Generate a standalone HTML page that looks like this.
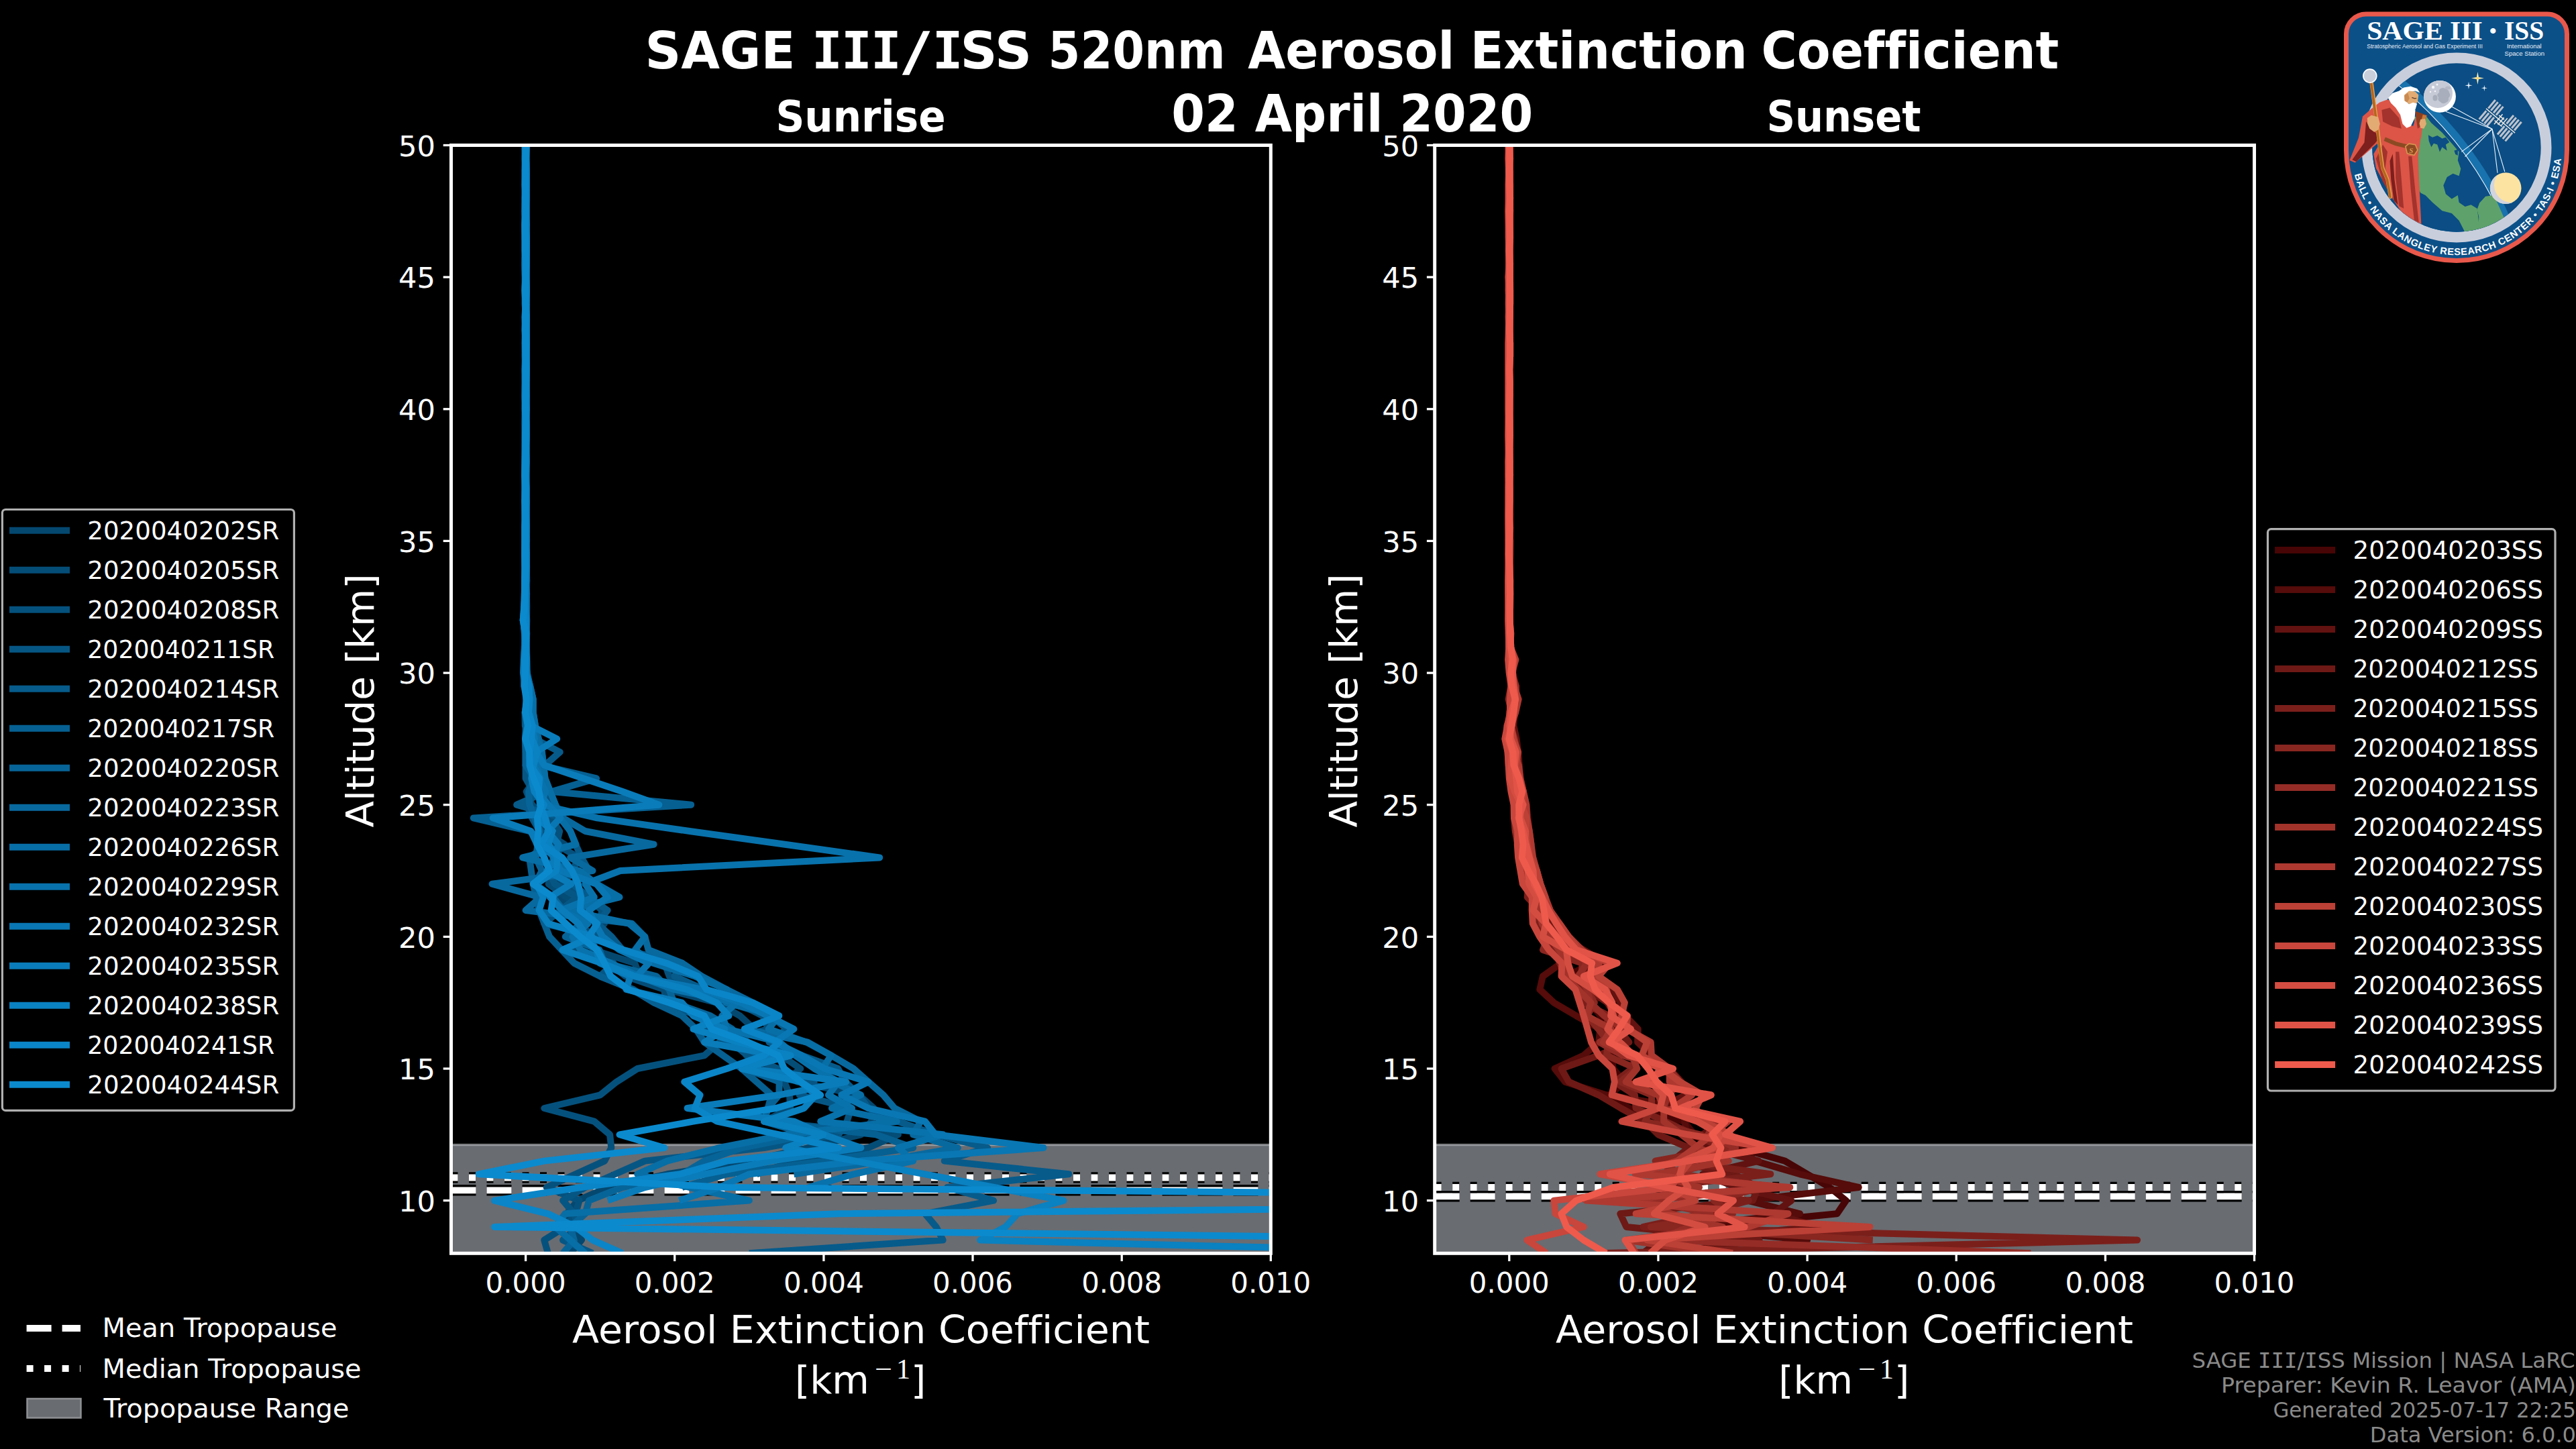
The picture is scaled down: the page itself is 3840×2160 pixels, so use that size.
<!DOCTYPE html>
<html lang="en"><head><meta charset="utf-8"><title>SAGE III/ISS 520nm Aerosol Extinction Coefficient</title>
<style>html,body{margin:0;padding:0;background:#000;width:3840px;height:2160px;overflow:hidden}svg{display:block}text{font-family:'DejaVu Sans', 'Liberation Sans', sans-serif;fill:#fff;font-variant-ligatures:none}</style></head><body>
<svg width="3840" height="2160" viewBox="0 0 3840 2160">
<rect width="3840" height="2160" fill="#000"/>
<defs><clipPath id="cl"><rect x="672.5" y="216.5" width="1221.8" height="1651.8"/></clipPath><clipPath id="cr"><rect x="2138.7" y="216.5" width="1221.8" height="1651.8"/></clipPath></defs>
<g clip-path="url(#cl)">
<rect x="672.5" y="1706.5" width="1221.8" height="161.8" fill="#696c71"/>
<rect x="672.5" y="1704.9" width="1221.8" height="1.7" fill="#7e8083"/>
<rect x="672.5" y="1706.6" width="1221.8" height="1.6" fill="#a0a4a7"/>
<line x1="672.5" x2="1894.3" y1="1774.3" y2="1774.3" stroke="#000" stroke-width="16.4" stroke-dasharray="37 16"/>
<line x1="672.5" x2="1894.3" y1="1774.3" y2="1774.3" stroke="#fff" stroke-width="9.8" stroke-dasharray="37 16"/>
<line x1="672.5" x2="1894.3" y1="1755.4" y2="1755.4" stroke="#000" stroke-width="16.4" stroke-dasharray="10 16.5"/>
<line x1="672.5" x2="1894.3" y1="1755.4" y2="1755.4" stroke="#fff" stroke-width="10" stroke-dasharray="10 16.5"/>
<g fill="none" stroke-width="10" stroke-linejoin="round" stroke-linecap="butt">
<polyline points="850.2,1868.3 866.9,1848.6 850.2,1829.0 844.7,1809.3 861.3,1789.6 905.8,1770.0 994.6,1750.3 1116.8,1730.6 1205.6,1711.0 1283.4,1691.3 1298.9,1671.7 1302.6,1652.0 1280.2,1632.3 1188.7,1612.7 1152.3,1593.0 1112.5,1573.3 1103.2,1553.7 1124.3,1534.0 1103.2,1514.3 1068.4,1494.7 994.5,1475.0 953.7,1455.3 946.2,1435.7 884.2,1416.0 887.0,1396.4 901.0,1376.7 870.2,1357.0 827.9,1337.4 835.0,1317.7 831.3,1298.0 825.3,1278.4 841.6,1258.7 810.5,1239.0 800.8,1219.4 823.1,1199.7 793.0,1180.0 799.9,1160.4 796.6,1140.7 798.7,1121.1 790.8,1101.4 792.3,1081.7 785.0,1062.1 791.3,1042.4 784.8,1022.7 781.5,1003.1 784.8,983.4 783.4,963.7 783.1,944.1 780.9,924.4 782.9,904.7 784.2,885.1 785.1,865.4 784.3,845.8 784.7,826.1 784.2,806.4 785.0,786.8 784.9,767.1 784.9,747.4 784.9,727.8 783.8,708.1 784.6,688.4 783.9,668.8 784.4,649.1 784.8,629.5 784.0,609.8 783.4,590.1 783.8,570.5 783.7,550.8 782.6,531.1 782.5,511.5 783.6,491.8 783.8,472.1 783.3,452.5 784.5,432.8 784.2,413.1 783.3,393.5 784.7,373.8 784.2,354.1 784.2,334.5 784.0,314.8 784.2,295.2 784.8,275.5 783.6,255.8 784.0,236.2 783.6,216.5" stroke="#044870"/>
<polyline points="1127.9,1750.3 1183.4,1730.6 1294.5,1711.0 1338.9,1691.3 1139.0,1671.7 1178.2,1652.0 1177.0,1632.3 1169.3,1612.7 1193.2,1593.0 1164.5,1573.3 1106.7,1553.7 1059.6,1534.0 1050.6,1514.3 992.0,1494.7 990.4,1475.0 932.3,1455.3 907.7,1435.7 854.9,1416.0 885.1,1396.4 863.3,1376.7 865.9,1357.0 844.3,1337.4 817.6,1317.7 830.4,1298.0 834.0,1278.4 821.5,1258.7 805.9,1239.0 812.2,1219.4 793.2,1199.7 784.7,1180.0 798.9,1160.4 783.6,1140.7 788.5,1121.1 786.2,1101.4 785.3,1081.7 782.5,1062.1 786.7,1042.4 781.1,1022.7 780.2,1003.1 781.3,983.4 781.9,963.7 782.8,944.1 782.2,924.4 782.7,904.7 783.8,885.1 783.2,865.4 783.5,845.8 783.2,826.1 783.8,806.4 783.3,786.8 784.0,767.1 784.7,747.4 783.5,727.8 783.8,708.1 783.5,688.4 784.5,668.8 783.7,649.1 783.3,629.5 784.7,609.8 784.6,590.1 783.0,570.5 783.3,550.8 784.3,531.1 784.8,511.5 783.6,491.8 784.1,472.1 783.9,452.5 782.8,432.8 783.3,413.1 783.8,393.5 783.3,373.8 783.5,354.1 783.4,334.5 782.6,314.8 784.3,295.2 784.5,275.5 783.1,255.8 784.1,236.2 783.1,216.5" stroke="#044d77"/>
<polyline points="816.9,1868.3 811.3,1848.6 842.4,1829.0 858.0,1809.3 863.5,1789.6 814.7,1770.0 858.0,1750.3 901.3,1730.6 911.3,1711.0 909.1,1691.3 885.8,1671.7 811.3,1652.0 894.6,1632.3 919.1,1612.7 950.2,1593.0 1050.1,1573.3 1072.4,1553.7 1145.3,1534.0 1137.0,1514.3 1098.7,1494.7 1049.8,1475.0 997.7,1455.3 990.6,1435.7 926.6,1416.0 890.6,1396.4 893.6,1376.7 897.5,1357.0 874.5,1337.4 839.4,1317.7 853.8,1298.0 862.5,1278.4 829.3,1258.7 834.2,1239.0 821.1,1219.4 825.0,1199.7 813.7,1180.0 807.4,1160.4 810.2,1140.7 804.5,1121.1 799.9,1101.4 789.9,1081.7 787.6,1062.1 792.1,1042.4 784.7,1022.7 784.5,1003.1 783.2,983.4 781.9,963.7 783.0,944.1 785.0,924.4 785.2,904.7 784.9,885.1 785.2,865.4 784.8,845.8 783.9,826.1 785.0,806.4 784.3,786.8 783.9,767.1 784.2,747.4 784.0,727.8 784.4,708.1 784.5,688.4 784.1,668.8 784.7,649.1 784.4,629.5 784.0,609.8 783.9,590.1 784.6,570.5 784.1,550.8 783.1,531.1 783.2,511.5 784.5,491.8 783.4,472.1 784.4,452.5 784.2,432.8 783.6,413.1 784.1,393.5 784.4,373.8 784.4,354.1 784.3,334.5 784.7,314.8 784.1,295.2 784.5,275.5 783.5,255.8 783.9,236.2 784.2,216.5" stroke="#05517d"/>
<polyline points="883.5,1868.3 839.1,1848.6 861.3,1829.0 855.8,1809.3 839.1,1789.6 872.4,1770.0 916.9,1750.3 961.3,1730.6 1139.0,1711.0 1250.1,1691.3 1262.6,1671.7 1268.7,1652.0 1191.6,1632.3 1213.6,1612.7 1159.5,1593.0 1114.2,1573.3 1090.0,1553.7 1051.4,1534.0 1045.1,1514.3 975.2,1494.7 944.2,1475.0 894.6,1455.3 914.7,1435.7 837.4,1416.0 892.3,1396.4 811.3,1376.7 835.5,1357.0 860.5,1337.4 826.8,1317.7 818.1,1298.0 825.4,1278.4 809.4,1258.7 804.5,1239.0 793.2,1219.4 785.8,1199.7 794.7,1180.0 783.6,1160.4 783.6,1140.7 783.6,1121.1 789.5,1101.4 782.8,1081.7 782.5,1062.1 786.3,1042.4 781.9,1022.7 781.9,1003.1 782.8,983.4 783.1,963.7 783.8,944.1 780.9,924.4 780.8,904.7 783.4,885.1 784.0,865.4 782.7,845.8 783.1,826.1 783.1,806.4 783.7,786.8 784.5,767.1 782.5,747.4 782.2,727.8 782.5,708.1 782.2,688.4 782.2,668.8 782.4,649.1 782.6,629.5 782.9,609.8 782.3,590.1 782.5,570.5 782.7,550.8 783.4,531.1 783.2,511.5 783.1,491.8 783.7,472.1 782.6,452.5 783.6,432.8 783.5,413.1 783.1,393.5 784.4,373.8 782.5,354.1 782.2,334.5 782.4,314.8 782.6,295.2 783.5,275.5 782.6,255.8 782.4,236.2 783.7,216.5" stroke="#065684"/>
<polyline points="1116.8,1868.3 1405.6,1848.6 1395.6,1829.0 1378.9,1809.3 1481.1,1789.6 1412.2,1770.0 1593.3,1750.3 1407.8,1730.6 1472.2,1711.0 1394.5,1691.3 1338.9,1671.7 1294.6,1652.0 1280.2,1632.3 1260.1,1612.7 1249.2,1593.0 1194.8,1573.3 1146.6,1553.7 1172.9,1534.0 1149.2,1514.3 1085.3,1494.7 1049.2,1475.0 1005.4,1455.3 1016.8,1435.7 928.1,1416.0 911.8,1396.4 890.3,1376.7 905.7,1357.0 877.2,1337.4 853.3,1317.7 878.0,1298.0 866.9,1278.4 858.0,1258.7 850.2,1239.0 839.1,1219.4 770.2,1199.7 815.1,1180.0 803.6,1160.4 812.5,1140.7 834.7,1121.1 796.9,1101.4 791.0,1081.7 789.2,1062.1 789.1,1042.4 789.5,1022.7 782.6,1003.1 784.1,983.4 784.4,963.7 783.6,944.1 783.6,924.4 784.4,904.7 783.8,885.1 783.9,865.4 784.3,845.8 784.5,826.1 784.1,806.4 784.2,786.8 784.9,767.1 784.2,747.4 784.9,727.8 784.5,708.1 784.9,688.4 783.8,668.8 784.9,649.1 784.5,629.5 784.5,609.8 784.5,590.1 784.7,570.5 784.9,550.8 784.9,531.1 784.8,511.5 783.9,491.8 783.5,472.1 784.6,452.5 783.9,432.8 784.5,413.1 784.3,393.5 784.5,373.8 784.4,354.1 784.9,334.5 784.7,314.8 784.0,295.2 784.9,275.5 784.5,255.8 784.8,236.2 784.4,216.5" stroke="#065b8b"/>
<polyline points="1016.8,1770.0 1083.5,1750.3 1227.9,1730.6 1361.2,1711.0 1305.6,1691.3 1139.0,1671.7 1144.6,1652.0 1150.1,1632.3 1127.9,1612.7 1105.7,1593.0 1077.9,1573.3 1050.1,1553.7 1037.5,1534.0 1016.8,1514.3 975.2,1494.7 942.3,1475.0 894.6,1455.3 855.8,1435.7 837.4,1416.0 819.1,1396.4 811.3,1376.7 803.6,1357.0 799.1,1337.4 794.7,1317.7 791.9,1298.0 789.1,1278.4 816.9,1258.7 789.1,1239.0 705.8,1219.4 1030.2,1199.7 822.4,1180.0 889.1,1160.4 805.8,1140.7 783.7,1121.1 783.0,1101.4 783.9,1081.7 787.5,1062.1 784.4,1042.4 784.2,1022.7 782.2,1003.1 781.4,983.4 781.9,963.7 782.6,944.1 779.7,924.4 782.2,904.7 781.9,885.1 782.9,865.4 782.8,845.8 782.1,826.1 782.1,806.4 782.5,786.8 783.7,767.1 783.8,747.4 783.9,727.8 782.2,708.1 782.3,688.4 782.9,668.8 782.8,649.1 782.4,629.5 782.8,609.8 782.2,590.1 782.6,570.5 782.3,550.8 782.8,531.1 783.8,511.5 782.5,491.8 783.6,472.1 782.8,452.5 782.2,432.8 782.7,413.1 782.2,393.5 782.5,373.8 782.8,354.1 782.5,334.5 782.4,314.8 782.2,295.2 783.0,275.5 782.8,255.8 782.9,236.2 782.3,216.5" stroke="#066092"/>
<polyline points="839.1,1868.3 855.8,1848.6 850.2,1829.0 872.4,1809.3 878.0,1789.6 928.0,1770.0 1016.8,1750.3 1050.1,1730.6 1105.7,1711.0 1205.6,1691.3 1139.0,1671.7 1144.6,1652.0 1161.4,1632.3 1161.6,1612.7 1110.8,1593.0 1133.4,1573.3 1095.3,1553.7 1091.6,1534.0 1059.0,1514.3 1004.9,1494.7 997.5,1475.0 978.4,1455.3 901.4,1435.7 893.4,1416.0 842.8,1396.4 865.8,1376.7 840.1,1357.0 824.5,1337.4 797.6,1317.7 807.7,1298.0 798.6,1278.4 801.8,1258.7 805.0,1239.0 797.0,1219.4 789.5,1199.7 788.1,1180.0 796.1,1160.4 783.6,1140.7 783.6,1121.1 783.0,1101.4 785.9,1081.7 783.6,1062.1 789.9,1042.4 784.2,1022.7 781.3,1003.1 782.4,983.4 782.4,963.7 782.8,944.1 779.7,924.4 781.2,904.7 783.6,885.1 782.7,865.4 782.8,845.8 782.8,826.1 782.5,806.4 782.3,786.8 782.5,767.1 782.5,747.4 782.4,727.8 783.3,708.1 782.5,688.4 782.8,668.8 782.8,649.1 783.2,629.5 782.6,609.8 783.3,590.1 783.6,570.5 783.8,550.8 782.8,531.1 782.6,511.5 782.9,491.8 782.3,472.1 783.7,452.5 783.4,432.8 782.8,413.1 782.2,393.5 782.9,373.8 782.9,354.1 782.5,334.5 782.9,314.8 783.6,295.2 782.9,275.5 782.7,255.8 783.0,236.2 783.2,216.5" stroke="#076498"/>
<polyline points="1183.4,1750.3 1316.7,1730.6 1427.8,1711.0 1361.2,1691.3 1372.3,1671.7 1333.5,1652.0 1316.7,1632.3 1294.5,1612.7 1272.3,1593.0 1239.0,1573.3 1204.0,1553.7 1110.0,1534.0 1161.2,1514.3 1122.3,1494.7 1082.8,1475.0 1046.3,1455.3 1016.8,1435.7 966.6,1416.0 961.3,1396.4 941.9,1376.7 783.6,1357.0 805.8,1337.4 733.6,1317.7 883.5,1298.0 850.2,1278.4 974.6,1258.7 872.4,1239.0 839.1,1219.4 828.0,1199.7 820.2,1180.0 812.5,1160.4 810.2,1140.7 808.0,1121.1 803.0,1101.4 798.0,1081.7 794.7,1062.1 794.7,1042.4 790.2,1022.7 785.8,1003.1 785.3,983.4 784.9,963.7 784.8,944.1 785.2,924.4 784.3,904.7 784.2,885.1 784.0,865.4 785.1,845.8 784.3,826.1 785.0,806.4 785.0,786.8 784.8,767.1 784.4,747.4 784.2,727.8 784.3,708.1 784.5,688.4 784.1,668.8 784.1,649.1 783.7,629.5 784.4,609.8 784.7,590.1 784.5,570.5 784.9,550.8 784.9,531.1 784.9,511.5 784.9,491.8 784.9,472.1 784.9,452.5 784.9,432.8 784.9,413.1 784.7,393.5 784.9,373.8 784.9,354.1 784.9,334.5 784.3,314.8 784.9,295.2 784.3,275.5 784.4,255.8 784.2,236.2 784.9,216.5" stroke="#08699f"/>
<polyline points="872.4,1868.3 850.2,1848.6 828.0,1829.0 842.4,1809.3 1116.8,1789.6 1027.9,1770.0 950.2,1750.3 994.6,1730.6 1072.4,1711.0 1172.3,1691.3 1336.8,1671.7 1239.9,1652.0 1283.2,1632.3 1241.9,1612.7 1225.9,1593.0 1239.0,1573.3 1202.5,1553.7 1145.7,1534.0 1161.2,1514.3 1082.6,1494.7 1083.5,1475.0 1035.8,1455.3 974.0,1435.7 946.7,1416.0 961.3,1396.4 937.6,1376.7 844.7,1357.0 923.5,1337.4 889.1,1317.7 863.4,1298.0 779.1,1278.4 858.5,1258.7 850.2,1239.0 835.2,1219.4 828.0,1199.7 820.2,1180.0 812.5,1160.4 810.2,1140.7 807.5,1121.1 800.4,1101.4 797.9,1081.7 794.7,1062.1 794.7,1042.4 790.2,1022.7 784.4,1003.1 784.8,983.4 784.2,963.7 785.2,944.1 783.3,924.4 784.5,904.7 785.1,885.1 783.3,865.4 784.7,845.8 784.5,826.1 784.4,806.4 785.0,786.8 783.9,767.1 784.3,747.4 783.6,727.8 783.5,708.1 783.4,688.4 784.1,668.8 783.4,649.1 783.6,629.5 783.9,609.8 784.3,590.1 784.5,570.5 784.1,550.8 784.6,531.1 784.9,511.5 784.6,491.8 784.4,472.1 784.5,452.5 784.9,432.8 783.8,413.1 784.3,393.5 784.5,373.8 783.9,354.1 784.4,334.5 784.6,314.8 784.4,295.2 783.8,275.5 784.9,255.8 784.0,236.2 783.8,216.5" stroke="#086ea6"/>
<polyline points="1205.6,1770.0 1272.3,1750.3 1361.2,1730.6 1338.9,1711.0 1405.6,1691.3 1223.2,1671.7 1270.0,1652.0 1234.9,1632.3 1250.0,1612.7 1214.0,1593.0 1185.6,1573.3 1162.1,1553.7 1083.8,1534.0 1076.5,1514.3 1097.9,1494.7 1004.8,1475.0 951.8,1455.3 910.3,1435.7 865.4,1416.0 853.6,1396.4 876.4,1376.7 836.6,1357.0 885.7,1337.4 872.4,1317.7 924.6,1298.0 1311.2,1278.4 1170.1,1258.7 1027.9,1239.0 890.2,1219.4 805.8,1199.7 813.3,1180.0 803.9,1160.4 800.6,1140.7 791.4,1121.1 794.1,1101.4 792.4,1081.7 790.6,1062.1 790.0,1042.4 786.5,1022.7 785.7,1003.1 782.6,983.4 784.0,963.7 784.5,944.1 783.2,924.4 783.1,904.7 782.6,885.1 783.9,865.4 783.4,845.8 783.7,826.1 783.3,806.4 782.5,786.8 783.7,767.1 782.9,747.4 783.0,727.8 783.1,708.1 783.8,688.4 783.8,668.8 783.4,649.1 783.1,629.5 784.1,609.8 783.6,590.1 783.8,570.5 784.8,550.8 783.6,531.1 784.2,511.5 783.8,491.8 783.4,472.1 783.0,452.5 784.0,432.8 784.0,413.1 784.2,393.5 784.1,373.8 784.0,354.1 783.0,334.5 782.9,314.8 783.9,295.2 783.9,275.5 783.6,255.8 782.7,236.2 782.7,216.5" stroke="#0872ac"/>
<polyline points="1012.4,1789.6 1072.4,1770.0 1116.8,1750.3 1283.4,1730.6 1555.5,1711.0 1394.5,1691.3 1378.9,1671.7 1294.4,1652.0 1254.4,1632.3 1294.5,1612.7 1229.3,1593.0 1195.0,1573.3 1154.9,1553.7 1183.4,1534.0 1144.5,1514.3 1105.0,1494.7 1047.4,1475.0 949.1,1455.3 967.5,1435.7 923.5,1416.0 898.4,1396.4 887.0,1376.7 878.0,1357.0 905.8,1337.4 889.1,1317.7 835.9,1298.0 824.8,1278.4 832.6,1258.7 816.2,1239.0 835.3,1219.4 817.4,1199.7 801.0,1180.0 805.6,1160.4 795.0,1140.7 793.8,1121.1 796.9,1101.4 793.1,1081.7 787.8,1062.1 790.5,1042.4 785.1,1022.7 782.6,1003.1 784.6,983.4 784.0,963.7 784.4,944.1 783.0,924.4 783.2,904.7 783.4,885.1 784.3,865.4 784.6,845.8 784.7,826.1 783.8,806.4 784.0,786.8 784.1,767.1 783.8,747.4 784.5,727.8 783.4,708.1 783.9,688.4 784.2,668.8 783.5,649.1 783.8,629.5 783.9,609.8 784.9,590.1 784.3,570.5 784.1,550.8 784.9,531.1 784.9,511.5 784.9,491.8 784.2,472.1 784.6,452.5 784.9,432.8 784.5,413.1 784.9,393.5 784.8,373.8 784.2,354.1 784.8,334.5 783.7,314.8 784.8,295.2 784.9,275.5 784.9,255.8 784.1,236.2 784.9,216.5" stroke="#0977b3"/>
<polyline points="905.8,1789.6 961.3,1770.0 1050.1,1750.3 1150.1,1730.6 1283.4,1711.0 1227.9,1691.3 1183.4,1671.7 1024.6,1652.0 1161.2,1632.3 1261.2,1612.7 1117.1,1593.0 1160.1,1573.3 1050.1,1553.7 1080.5,1534.0 1033.8,1514.3 1016.3,1494.7 933.5,1475.0 939.7,1455.3 894.0,1435.7 889.3,1416.0 875.2,1396.4 862.2,1376.7 838.5,1357.0 819.6,1337.4 851.4,1317.7 815.1,1298.0 830.5,1278.4 800.6,1258.7 791.3,1239.0 734.7,1219.4 982.4,1199.7 928.0,1180.0 870.2,1160.4 811.3,1140.7 799.1,1121.1 830.2,1101.4 791.3,1081.7 783.5,1062.1 787.3,1042.4 783.7,1022.7 780.2,1003.1 780.8,983.4 782.3,963.7 782.6,944.1 780.7,924.4 781.3,904.7 781.9,885.1 782.3,865.4 782.7,845.8 782.1,826.1 782.7,806.4 782.2,786.8 783.5,767.1 782.7,747.4 782.7,727.8 782.3,708.1 783.0,688.4 783.5,668.8 783.8,649.1 783.4,629.5 783.9,609.8 783.5,590.1 783.1,570.5 782.9,550.8 783.5,531.1 782.9,511.5 782.8,491.8 783.2,472.1 783.6,452.5 783.9,432.8 783.1,413.1 783.4,393.5 784.3,373.8 783.4,354.1 783.7,334.5 782.5,314.8 783.1,295.2 782.2,275.5 782.7,255.8 783.3,236.2 783.5,216.5" stroke="#0a7cba"/>
<polyline points="2238.6,1868.3 1461.1,1848.6 1498.9,1829.0 1516.7,1809.3 1585.5,1789.6 1482.2,1770.0 1378.9,1750.3 1274.5,1730.6 1171.2,1711.0 1227.9,1691.3 1139.0,1671.7 1198.5,1652.0 1216.1,1632.3 1193.3,1612.7 1105.7,1593.0 1178.8,1573.3 1101.0,1553.7 1033.5,1534.0 1086.4,1514.3 1068.3,1494.7 1023.9,1475.0 946.8,1455.3 897.1,1435.7 838.5,1416.0 882.8,1396.4 817.2,1376.7 803.6,1357.0 809.8,1337.4 799.5,1317.7 829.3,1298.0 831.2,1278.4 817.4,1258.7 823.9,1239.0 801.2,1219.4 811.0,1199.7 796.6,1180.0 792.3,1160.4 795.3,1140.7 801.2,1121.1 793.0,1101.4 788.2,1081.7 785.6,1062.1 788.5,1042.4 786.1,1022.7 783.4,1003.1 782.2,983.4 784.1,963.7 781.9,944.1 780.4,924.4 782.4,904.7 782.8,885.1 782.6,865.4 783.2,845.8 782.9,826.1 784.4,806.4 783.6,786.8 783.6,767.1 782.9,747.4 782.9,727.8 783.7,708.1 783.6,688.4 783.0,668.8 783.2,649.1 784.0,629.5 784.9,609.8 784.0,590.1 783.1,570.5 784.3,550.8 783.9,531.1 784.6,511.5 784.1,491.8 784.5,472.1 783.6,452.5 783.5,432.8 783.5,413.1 784.2,393.5 782.8,373.8 782.8,354.1 784.3,334.5 783.4,314.8 784.1,295.2 783.1,275.5 783.4,255.8 783.4,236.2 783.7,216.5" stroke="#0a81c1"/>
<polyline points="928.0,1868.3 883.5,1848.6 858.0,1829.0 816.9,1809.3 736.9,1789.6 865.8,1770.0 1013.5,1750.3 1083.5,1730.6 1250.1,1711.0 1161.2,1691.3 1069.0,1671.7 1035.7,1652.0 1043.5,1632.3 1020.2,1612.7 1083.5,1593.0 1139.0,1573.3 1161.6,1553.7 1109.7,1534.0 1161.2,1514.3 1122.3,1494.7 1053.0,1475.0 1040.7,1455.3 993.2,1435.7 929.3,1416.0 877.6,1396.4 890.3,1376.7 864.8,1357.0 866.2,1337.4 861.7,1317.7 852.7,1298.0 837.9,1278.4 806.4,1258.7 818.1,1239.0 812.9,1219.4 805.0,1199.7 802.9,1180.0 804.0,1160.4 790.1,1140.7 789.7,1121.1 792.0,1101.4 793.9,1081.7 788.0,1062.1 789.2,1042.4 788.7,1022.7 783.9,1003.1 785.0,983.4 783.0,963.7 783.8,944.1 784.1,924.4 783.3,904.7 783.2,885.1 784.2,865.4 784.3,845.8 784.5,826.1 783.9,806.4 784.3,786.8 784.0,767.1 784.5,747.4 784.2,727.8 783.4,708.1 784.4,688.4 784.5,668.8 784.7,649.1 784.6,629.5 783.9,609.8 784.0,590.1 784.2,570.5 784.9,550.8 784.3,531.1 784.6,511.5 784.3,491.8 784.8,472.1 783.5,452.5 784.9,432.8 783.9,413.1 784.1,393.5 784.7,373.8 784.9,354.1 783.6,334.5 783.4,314.8 783.5,295.2 783.7,275.5 783.1,255.8 783.1,236.2 784.4,216.5" stroke="#0a85c7"/>
<polyline points="2116.4,1868.3 2360.8,1848.6 736.9,1829.0 1250.1,1809.3 3205.0,1789.6 1083.5,1770.0 713.6,1750.3 811.3,1730.6 990.2,1711.0 923.5,1691.3 1033.5,1671.7 1156.8,1652.0 1223.2,1632.3 1193.7,1612.7 1169.1,1593.0 1160.2,1573.3 1115.0,1553.7 1060.8,1534.0 1050.0,1514.3 997.7,1494.7 936.4,1475.0 910.4,1455.3 901.1,1435.7 890.3,1416.0 864.8,1396.4 843.2,1376.7 821.7,1357.0 824.6,1337.4 794.7,1317.7 818.8,1298.0 811.3,1278.4 800.4,1258.7 802.4,1239.0 801.0,1219.4 806.8,1199.7 803.5,1180.0 795.4,1160.4 789.5,1140.7 789.3,1121.1 783.0,1101.4 786.9,1081.7 783.0,1062.1 784.6,1042.4 781.7,1022.7 782.6,1003.1 782.5,983.4 783.8,963.7 784.0,944.1 779.7,924.4 781.5,904.7 781.9,885.1 782.0,865.4 782.3,845.8 782.2,826.1 782.3,806.4 782.5,786.8 782.4,767.1 782.2,747.4 783.0,727.8 782.2,708.1 782.7,688.4 783.3,668.8 783.0,649.1 783.6,629.5 782.8,609.8 783.2,590.1 783.7,570.5 783.4,550.8 783.4,531.1 783.2,511.5 782.8,491.8 782.9,472.1 783.4,452.5 782.5,432.8 783.4,413.1 783.6,393.5 782.6,373.8 782.5,354.1 782.3,334.5 783.7,314.8 783.0,295.2 783.1,275.5 783.3,255.8 783.6,236.2 783.6,216.5" stroke="#0b8ace"/>
</g></g>
<rect x="672.5" y="216.5" width="1221.8" height="1651.8" fill="none" stroke="#fff" stroke-width="5"/>
<g stroke="#fff" stroke-width="3.3">
<line x1="660.7" x2="672.5" y1="1789.6" y2="1789.6"/>
<line x1="660.7" x2="672.5" y1="1593.0" y2="1593.0"/>
<line x1="660.7" x2="672.5" y1="1396.4" y2="1396.4"/>
<line x1="660.7" x2="672.5" y1="1199.7" y2="1199.7"/>
<line x1="660.7" x2="672.5" y1="1003.1" y2="1003.1"/>
<line x1="660.7" x2="672.5" y1="806.4" y2="806.4"/>
<line x1="660.7" x2="672.5" y1="609.8" y2="609.8"/>
<line x1="660.7" x2="672.5" y1="413.1" y2="413.1"/>
<line x1="660.7" x2="672.5" y1="216.5" y2="216.5"/>
<line x1="783.6" x2="783.6" y1="1868.3" y2="1880.1"/>
<line x1="1005.7" x2="1005.7" y1="1868.3" y2="1880.1"/>
<line x1="1227.9" x2="1227.9" y1="1868.3" y2="1880.1"/>
<line x1="1450.0" x2="1450.0" y1="1868.3" y2="1880.1"/>
<line x1="1672.2" x2="1672.2" y1="1868.3" y2="1880.1"/>
<line x1="1894.3" x2="1894.3" y1="1868.3" y2="1880.1"/>
</g>
<g font-size="43">
<text x="649.0" y="1805.7" text-anchor="end" textLength="55" lengthAdjust="spacingAndGlyphs">10</text>
<text x="649.0" y="1609.1" text-anchor="end" textLength="55" lengthAdjust="spacingAndGlyphs">15</text>
<text x="649.0" y="1412.5" text-anchor="end" textLength="55" lengthAdjust="spacingAndGlyphs">20</text>
<text x="649.0" y="1215.8" text-anchor="end" textLength="55" lengthAdjust="spacingAndGlyphs">25</text>
<text x="649.0" y="1019.2" text-anchor="end" textLength="55" lengthAdjust="spacingAndGlyphs">30</text>
<text x="649.0" y="822.5" text-anchor="end" textLength="55" lengthAdjust="spacingAndGlyphs">35</text>
<text x="649.0" y="625.9" text-anchor="end" textLength="55" lengthAdjust="spacingAndGlyphs">40</text>
<text x="649.0" y="429.2" text-anchor="end" textLength="55" lengthAdjust="spacingAndGlyphs">45</text>
<text x="649.0" y="232.6" text-anchor="end" textLength="55" lengthAdjust="spacingAndGlyphs">50</text>
<text x="783.6" y="1927" text-anchor="middle" textLength="120" lengthAdjust="spacingAndGlyphs">0.000</text>
<text x="1005.7" y="1927" text-anchor="middle" textLength="120" lengthAdjust="spacingAndGlyphs">0.002</text>
<text x="1227.9" y="1927" text-anchor="middle" textLength="120" lengthAdjust="spacingAndGlyphs">0.004</text>
<text x="1450.0" y="1927" text-anchor="middle" textLength="120" lengthAdjust="spacingAndGlyphs">0.006</text>
<text x="1672.2" y="1927" text-anchor="middle" textLength="120" lengthAdjust="spacingAndGlyphs">0.008</text>
<text x="1894.3" y="1927" text-anchor="middle" textLength="120" lengthAdjust="spacingAndGlyphs">0.010</text>
</g>
<text x="1283.4" y="2002.3" font-size="57" text-anchor="middle" textLength="861" lengthAdjust="spacingAndGlyphs">Aerosol Extinction Coefficient</text>
<text y="2077" font-size="57"><tspan x="1185.1">[km</tspan><tspan x="1303.9" y="2055" font-size="42" textLength="26" lengthAdjust="spacingAndGlyphs" style="font-family:'Liberation Serif', serif">−</tspan><tspan x="1335.9" y="2055" font-size="42" style="font-family:'Liberation Serif', serif">1</tspan><tspan x="1357.9" y="2077">]</tspan></text>
<text transform="translate(557.2,1044.4) rotate(-90)" font-size="57" text-anchor="middle" textLength="378" lengthAdjust="spacingAndGlyphs">Altitude [km]</text>
<g clip-path="url(#cr)">
<rect x="2138.7" y="1706.5" width="1221.8" height="161.8" fill="#696c71"/>
<rect x="2138.7" y="1704.9" width="1221.8" height="1.7" fill="#7e8083"/>
<rect x="2138.7" y="1706.6" width="1221.8" height="1.6" fill="#a0a4a7"/>
<line x1="2138.7" x2="3360.5" y1="1783.4" y2="1783.4" stroke="#000" stroke-width="16.4" stroke-dasharray="37 16"/>
<line x1="2138.7" x2="3360.5" y1="1783.4" y2="1783.4" stroke="#fff" stroke-width="9.8" stroke-dasharray="37 16"/>
<line x1="2138.7" x2="3360.5" y1="1770.0" y2="1770.0" stroke="#000" stroke-width="16.4" stroke-dasharray="10 16.5"/>
<line x1="2138.7" x2="3360.5" y1="1770.0" y2="1770.0" stroke="#fff" stroke-width="10" stroke-dasharray="10 16.5"/>
<g fill="none" stroke-width="10" stroke-linejoin="round" stroke-linecap="butt">
<polyline points="2494.1,1868.3 2605.2,1848.6 2538.6,1829.0 2738.5,1809.3 2751.8,1789.6 2727.4,1770.0 2694.1,1750.3 2660.7,1730.6 2591.0,1711.0 2525.8,1691.3 2510.2,1671.7 2428.7,1652.0 2399.7,1632.3 2421.3,1612.7 2404.8,1593.0 2402.4,1573.3 2400.4,1553.7 2406.9,1534.0 2385.8,1514.3 2370.5,1494.7 2400.6,1475.0 2334.6,1455.3 2374.6,1435.7 2316.8,1416.0 2313.8,1396.4 2311.5,1376.7 2289.3,1357.0 2285.7,1337.4 2280.6,1317.7 2277.4,1298.0 2269.9,1278.4 2263.0,1258.7 2266.1,1239.0 2267.5,1219.4 2269.2,1199.7 2259.5,1180.0 2255.2,1160.4 2258.3,1140.7 2258.2,1121.1 2251.8,1101.4 2250.6,1081.7 2254.2,1062.1 2258.9,1042.4 2253.0,1022.7 2252.1,1003.1 2252.7,983.4 2250.3,963.7 2249.4,944.1 2249.8,924.4 2249.8,904.7 2250.7,885.1 2249.7,865.4 2249.8,845.8 2249.1,826.1 2249.5,806.4 2249.5,786.8 2250.3,767.1 2249.5,747.4 2249.7,727.8 2249.5,708.1 2249.7,688.4 2250.4,668.8 2249.7,649.1 2250.5,629.5 2250.0,609.8 2249.7,590.1 2250.6,570.5 2250.6,550.8 2250.2,531.1 2250.2,511.5 2250.3,491.8 2250.5,472.1 2250.0,452.5 2250.3,432.8 2250.5,413.1 2249.4,393.5 2249.3,373.8 2249.5,354.1 2249.2,334.5 2249.0,314.8 2250.7,295.2 2248.8,275.5 2249.7,255.8 2249.3,236.2 2249.7,216.5" stroke="#480505"/>
<polyline points="2583.0,1868.3 2694.1,1848.6 2494.1,1829.0 2683.0,1809.3 2605.2,1789.6 2770.7,1770.0 2683.0,1750.3 2616.3,1730.6 2593.7,1711.0 2515.0,1691.3 2511.1,1671.7 2514.1,1652.0 2394.2,1632.3 2333.1,1612.7 2317.5,1593.0 2360.8,1573.3 2383.1,1553.7 2385.3,1534.0 2349.7,1514.3 2316.4,1494.7 2295.3,1475.0 2299.8,1455.3 2327.5,1435.7 2334.4,1416.0 2317.7,1396.4 2321.4,1376.7 2298.7,1357.0 2291.9,1337.4 2285.2,1317.7 2280.6,1298.0 2277.6,1278.4 2268.3,1258.7 2268.4,1239.0 2271.1,1219.4 2258.2,1199.7 2261.1,1180.0 2259.1,1160.4 2259.5,1140.7 2253.3,1121.1 2251.4,1101.4 2252.3,1081.7 2252.4,1062.1 2254.6,1042.4 2257.3,1022.7 2250.5,1003.1 2255.1,983.4 2250.5,963.7 2250.9,944.1 2249.6,924.4 2249.6,904.7 2249.9,885.1 2249.9,865.4 2249.9,845.8 2249.6,826.1 2251.1,806.4 2250.7,786.8 2250.8,767.1 2250.7,747.4 2249.8,727.8 2249.9,708.1 2249.5,688.4 2249.4,668.8 2249.9,649.1 2250.7,629.5 2249.9,609.8 2250.1,590.1 2250.3,570.5 2250.8,550.8 2249.8,531.1 2250.6,511.5 2250.7,491.8 2249.3,472.1 2249.6,452.5 2249.1,432.8 2249.2,413.1 2249.6,393.5 2250.2,373.8 2249.1,354.1 2249.6,334.5 2250.1,314.8 2250.1,295.2 2249.6,275.5 2250.5,255.8 2250.3,236.2 2249.5,216.5" stroke="#550c0a"/>
<polyline points="2448.9,1868.3 2475.1,1848.6 2711.6,1829.0 2643.1,1809.3 2670.3,1789.6 2589.3,1770.0 2538.3,1750.3 2621.6,1730.6 2544.3,1711.0 2538.3,1691.3 2564.2,1671.7 2474.1,1652.0 2512.9,1632.3 2506.4,1612.7 2488.6,1593.0 2462.2,1573.3 2441.1,1553.7 2441.8,1534.0 2422.6,1514.3 2415.3,1494.7 2404.7,1475.0 2383.1,1455.3 2394.3,1435.7 2360.8,1416.0 2328.4,1396.4 2320.7,1376.7 2310.9,1357.0 2302.8,1337.4 2294.3,1317.7 2290.9,1298.0 2285.3,1278.4 2279.8,1258.7 2279.7,1239.0 2277.5,1219.4 2275.3,1199.7 2270.9,1180.0 2266.4,1160.4 2264.8,1140.7 2263.1,1121.1 2260.6,1101.4 2256.4,1081.7 2257.5,1062.1 2259.3,1042.4 2259.6,1022.7 2255.3,1003.1 2256.0,983.4 2249.9,963.7 2251.1,944.1 2249.6,924.4 2251.0,904.7 2250.4,885.1 2250.0,865.4 2250.9,845.8 2251.1,826.1 2250.3,806.4 2251.1,786.8 2251.1,767.1 2251.0,747.4 2251.1,727.8 2251.0,708.1 2250.8,688.4 2250.9,668.8 2250.9,649.1 2249.6,629.5 2250.5,609.8 2251.1,590.1 2250.9,570.5 2251.1,550.8 2250.9,531.1 2251.1,511.5 2250.6,491.8 2250.3,472.1 2250.1,452.5 2250.2,432.8 2250.6,413.1 2251.0,393.5 2250.7,373.8 2251.1,354.1 2251.0,334.5 2250.7,314.8 2250.8,295.2 2251.1,275.5 2250.6,255.8 2251.1,236.2 2250.7,216.5" stroke="#621210"/>
<polyline points="2501.5,1868.3 2622.6,1848.6 2424.4,1829.0 2415.3,1809.3 2612.9,1789.6 2620.6,1770.0 2585.5,1750.3 2492.8,1730.6 2517.4,1711.0 2471.9,1691.3 2452.1,1671.7 2416.4,1652.0 2383.1,1632.3 2338.6,1612.7 2327.5,1593.0 2383.1,1573.3 2428.4,1553.7 2412.6,1534.0 2408.2,1514.3 2396.1,1494.7 2367.4,1475.0 2350.8,1455.3 2373.9,1435.7 2349.2,1416.0 2324.4,1396.4 2311.8,1376.7 2299.1,1357.0 2286.9,1337.4 2283.6,1317.7 2277.1,1298.0 2276.2,1278.4 2274.7,1258.7 2268.6,1239.0 2265.0,1219.4 2264.3,1199.7 2265.1,1180.0 2260.5,1160.4 2254.9,1140.7 2258.7,1121.1 2252.5,1101.4 2250.6,1081.7 2254.8,1062.1 2255.4,1042.4 2253.9,1022.7 2250.9,1003.1 2250.8,983.4 2250.7,963.7 2250.3,944.1 2248.1,924.4 2248.6,904.7 2249.1,885.1 2249.5,865.4 2249.9,845.8 2250.4,826.1 2249.8,806.4 2250.0,786.8 2250.5,767.1 2250.1,747.4 2250.2,727.8 2250.9,708.1 2250.0,688.4 2249.9,668.8 2249.8,649.1 2250.3,629.5 2250.3,609.8 2250.1,590.1 2249.6,570.5 2250.3,550.8 2250.6,531.1 2250.1,511.5 2249.6,491.8 2249.9,472.1 2249.2,452.5 2249.3,432.8 2249.6,413.1 2248.9,393.5 2249.0,373.8 2249.7,354.1 2250.2,334.5 2249.8,314.8 2250.2,295.2 2249.8,275.5 2250.3,255.8 2248.5,236.2 2249.0,216.5" stroke="#6e1915"/>
<polyline points="2383.1,1868.3 3186.1,1848.6 2449.7,1829.0 2538.6,1809.3 2606.7,1789.6 2469.4,1770.0 2639.3,1750.3 2495.2,1730.6 2569.1,1711.0 2524.3,1691.3 2482.7,1671.7 2438.6,1652.0 2437.0,1632.3 2407.0,1612.7 2433.0,1593.0 2438.1,1573.3 2402.1,1553.7 2392.9,1534.0 2398.5,1514.3 2358.9,1494.7 2364.8,1475.0 2335.7,1455.3 2324.8,1435.7 2318.8,1416.0 2298.1,1396.4 2291.1,1376.7 2296.1,1357.0 2276.7,1337.4 2278.7,1317.7 2274.4,1298.0 2266.8,1278.4 2269.6,1258.7 2269.5,1239.0 2265.3,1219.4 2262.1,1199.7 2267.4,1180.0 2252.9,1160.4 2254.2,1140.7 2251.6,1121.1 2244.7,1101.4 2250.3,1081.7 2249.9,1062.1 2256.0,1042.4 2252.1,1022.7 2251.8,1003.1 2252.4,983.4 2251.1,963.7 2250.6,944.1 2249.2,924.4 2249.5,904.7 2249.5,885.1 2249.0,865.4 2248.8,845.8 2250.0,826.1 2249.4,806.4 2248.9,786.8 2249.5,767.1 2249.5,747.4 2249.6,727.8 2249.6,708.1 2250.4,688.4 2249.3,668.8 2248.6,649.1 2249.0,629.5 2249.1,609.8 2248.9,590.1 2249.3,570.5 2248.5,550.8 2249.5,531.1 2249.2,511.5 2249.1,491.8 2249.5,472.1 2249.6,452.5 2249.1,432.8 2249.4,413.1 2249.2,393.5 2248.7,373.8 2249.5,354.1 2248.9,334.5 2248.9,314.8 2249.4,295.2 2249.4,275.5 2249.1,255.8 2248.7,236.2 2249.2,216.5" stroke="#7b1f1b"/>
<polyline points="2791.8,1848.6 2460.8,1829.0 2583.0,1809.3 2554.9,1789.6 2625.8,1770.0 2508.2,1750.3 2467.6,1730.6 2576.2,1711.0 2534.3,1691.3 2452.3,1671.7 2461.8,1652.0 2462.3,1632.3 2415.5,1612.7 2439.3,1593.0 2394.7,1573.3 2397.9,1553.7 2382.6,1534.0 2366.1,1514.3 2376.8,1494.7 2365.6,1475.0 2357.7,1455.3 2358.6,1435.7 2300.0,1416.0 2307.8,1396.4 2300.7,1376.7 2287.5,1357.0 2283.9,1337.4 2277.4,1317.7 2286.1,1298.0 2268.4,1278.4 2262.4,1258.7 2258.7,1239.0 2257.0,1219.4 2261.2,1199.7 2254.0,1180.0 2255.2,1160.4 2259.8,1140.7 2255.2,1121.1 2251.2,1101.4 2251.9,1081.7 2253.5,1062.1 2248.7,1042.4 2252.3,1022.7 2250.5,1003.1 2253.1,983.4 2249.1,963.7 2249.1,944.1 2248.3,924.4 2249.1,904.7 2248.2,885.1 2248.9,865.4 2248.3,845.8 2248.3,826.1 2249.2,806.4 2248.5,786.8 2248.5,767.1 2248.4,747.4 2248.7,727.8 2248.4,708.1 2249.3,688.4 2248.5,668.8 2248.4,649.1 2248.4,629.5 2248.4,609.8 2248.4,590.1 2248.4,570.5 2248.4,550.8 2248.4,531.1 2248.4,511.5 2249.6,491.8 2248.5,472.1 2249.9,452.5 2248.4,432.8 2249.4,413.1 2249.1,393.5 2249.2,373.8 2249.4,354.1 2249.4,334.5 2248.9,314.8 2248.7,295.2 2248.4,275.5 2249.3,255.8 2248.5,236.2 2249.5,216.5" stroke="#882620"/>
<polyline points="3027.3,1868.3 2471.9,1848.6 2516.3,1829.0 2549.4,1809.3 2458.4,1789.6 2650.8,1770.0 2491.8,1750.3 2564.9,1730.6 2587.1,1711.0 2546.1,1691.3 2558.1,1671.7 2479.5,1652.0 2486.8,1632.3 2504.4,1612.7 2487.2,1593.0 2418.7,1573.3 2384.4,1553.7 2418.9,1534.0 2391.3,1514.3 2370.5,1494.7 2366.4,1475.0 2352.9,1455.3 2365.5,1435.7 2346.0,1416.0 2319.0,1396.4 2304.2,1376.7 2299.6,1357.0 2298.5,1337.4 2294.8,1317.7 2290.9,1298.0 2272.3,1278.4 2282.5,1258.7 2279.8,1239.0 2271.2,1219.4 2266.5,1199.7 2269.3,1180.0 2261.5,1160.4 2262.6,1140.7 2261.4,1121.1 2257.7,1101.4 2251.2,1081.7 2255.9,1062.1 2260.4,1042.4 2259.9,1022.7 2253.0,1003.1 2255.5,983.4 2250.5,963.7 2249.9,944.1 2249.7,924.4 2250.6,904.7 2250.4,885.1 2251.0,865.4 2250.7,845.8 2250.3,826.1 2249.9,806.4 2250.2,786.8 2249.8,767.1 2249.7,747.4 2249.9,727.8 2250.6,708.1 2250.2,688.4 2250.1,668.8 2249.9,649.1 2249.8,629.5 2249.8,609.8 2250.2,590.1 2249.8,570.5 2250.1,550.8 2251.1,531.1 2251.1,511.5 2250.5,491.8 2250.0,472.1 2250.1,452.5 2250.6,432.8 2250.2,413.1 2251.1,393.5 2250.6,373.8 2250.9,354.1 2250.9,334.5 2251.1,314.8 2251.1,295.2 2251.1,275.5 2251.1,255.8 2250.4,236.2 2250.1,216.5" stroke="#952c26"/>
<polyline points="2561.2,1868.3 2424.1,1848.6 2568.0,1829.0 2491.2,1809.3 2442.1,1789.6 2533.0,1770.0 2467.9,1750.3 2576.7,1730.6 2531.6,1711.0 2506.7,1691.3 2480.2,1671.7 2480.3,1652.0 2472.0,1632.3 2423.7,1612.7 2440.3,1593.0 2433.7,1573.3 2389.9,1553.7 2401.6,1534.0 2365.2,1514.3 2371.4,1494.7 2352.3,1475.0 2332.9,1455.3 2337.5,1435.7 2324.1,1416.0 2310.1,1396.4 2298.7,1376.7 2294.8,1357.0 2283.6,1337.4 2282.6,1317.7 2273.9,1298.0 2283.9,1278.4 2268.3,1258.7 2259.9,1239.0 2261.8,1219.4 2257.3,1199.7 2255.6,1180.0 2251.4,1160.4 2248.7,1140.7 2247.6,1121.1 2245.4,1101.4 2246.4,1081.7 2253.2,1062.1 2253.3,1042.4 2256.3,1022.7 2251.0,1003.1 2251.5,983.4 2249.2,963.7 2248.9,944.1 2249.7,924.4 2248.5,904.7 2249.1,885.1 2249.5,865.4 2249.0,845.8 2249.3,826.1 2250.4,806.4 2250.0,786.8 2249.7,767.1 2249.9,747.4 2249.6,727.8 2250.3,708.1 2250.0,688.4 2249.2,668.8 2248.6,649.1 2249.1,629.5 2249.5,609.8 2249.4,590.1 2249.7,570.5 2249.3,550.8 2249.9,531.1 2250.8,511.5 2250.0,491.8 2250.3,472.1 2249.9,452.5 2250.0,432.8 2248.7,413.1 2249.9,393.5 2249.7,373.8 2248.8,354.1 2248.7,334.5 2248.4,314.8 2249.4,295.2 2249.3,275.5 2249.2,255.8 2249.5,236.2 2248.5,216.5" stroke="#a1332b"/>
<polyline points="2438.6,1868.3 2426.3,1848.6 2606.1,1829.0 2665.5,1809.3 2364.6,1789.6 2668.3,1770.0 2437.8,1750.3 2500.5,1730.6 2526.7,1711.0 2552.0,1691.3 2576.0,1671.7 2493.4,1652.0 2522.2,1632.3 2488.8,1612.7 2488.6,1593.0 2461.9,1573.3 2460.8,1553.7 2424.8,1534.0 2426.2,1514.3 2399.3,1494.7 2394.8,1475.0 2380.0,1455.3 2383.7,1435.7 2358.1,1416.0 2338.6,1396.4 2324.7,1376.7 2310.9,1357.0 2303.6,1337.4 2296.4,1317.7 2290.9,1298.0 2285.2,1278.4 2282.5,1258.7 2279.8,1239.0 2276.2,1219.4 2275.3,1199.7 2270.9,1180.0 2266.4,1160.4 2263.8,1140.7 2256.7,1121.1 2253.3,1101.4 2252.6,1081.7 2259.2,1062.1 2263.6,1042.4 2257.0,1022.7 2253.9,1003.1 2259.4,983.4 2251.3,963.7 2251.9,944.1 2250.4,924.4 2251.2,904.7 2251.4,885.1 2250.7,865.4 2250.2,845.8 2251.1,826.1 2251.2,806.4 2250.2,786.8 2251.1,767.1 2250.6,747.4 2250.9,727.8 2251.0,708.1 2250.7,688.4 2251.1,668.8 2250.0,649.1 2250.7,629.5 2251.1,609.8 2251.0,590.1 2249.9,570.5 2250.5,550.8 2250.2,531.1 2250.9,511.5 2250.9,491.8 2250.1,472.1 2251.1,452.5 2251.1,432.8 2250.0,413.1 2250.5,393.5 2250.8,373.8 2249.9,354.1 2249.7,334.5 2250.2,314.8 2251.1,295.2 2250.4,275.5 2250.2,255.8 2251.0,236.2 2250.7,216.5" stroke="#ae3931"/>
<polyline points="2583.0,1868.3 2455.3,1848.6 2787.4,1829.0 2438.6,1809.3 2527.5,1789.6 2490.6,1770.0 2504.2,1750.3 2520.2,1730.6 2557.6,1711.0 2579.5,1691.3 2540.1,1671.7 2527.5,1652.0 2538.2,1632.3 2504.1,1612.7 2478.3,1593.0 2447.3,1573.3 2455.4,1553.7 2427.6,1534.0 2417.2,1514.3 2421.9,1494.7 2410.8,1475.0 2383.0,1455.3 2399.7,1435.7 2353.3,1416.0 2338.6,1396.4 2324.5,1376.7 2302.4,1357.0 2303.6,1337.4 2296.4,1317.7 2290.9,1298.0 2280.9,1278.4 2276.8,1258.7 2274.3,1239.0 2275.5,1219.4 2268.1,1199.7 2270.9,1180.0 2265.0,1160.4 2259.2,1140.7 2263.1,1121.1 2255.9,1101.4 2252.8,1081.7 2255.1,1062.1 2259.7,1042.4 2256.1,1022.7 2251.0,1003.1 2257.7,983.4 2251.6,963.7 2250.6,944.1 2250.4,924.4 2249.2,904.7 2249.8,885.1 2250.3,865.4 2250.6,845.8 2250.3,826.1 2250.9,806.4 2251.1,786.8 2250.1,767.1 2251.0,747.4 2250.9,727.8 2250.6,708.1 2250.2,688.4 2250.6,668.8 2250.5,649.1 2251.0,629.5 2251.0,609.8 2250.4,590.1 2250.2,570.5 2249.6,550.8 2250.2,531.1 2250.4,511.5 2250.7,491.8 2250.0,472.1 2251.1,452.5 2251.1,432.8 2251.0,413.1 2250.8,393.5 2251.0,373.8 2251.1,354.1 2251.1,334.5 2251.1,314.8 2251.0,295.2 2251.1,275.5 2250.7,255.8 2251.1,236.2 2250.2,216.5" stroke="#bb4036"/>
<polyline points="2305.3,1868.3 2276.4,1848.6 2360.8,1829.0 2318.6,1809.3 2316.4,1789.6 2494.1,1770.0 2385.3,1750.3 2516.3,1730.6 2637.4,1711.0 2516.3,1691.3 2417.5,1671.7 2471.9,1652.0 2402.7,1632.3 2406.8,1612.7 2403.5,1593.0 2383.1,1573.3 2372.0,1553.7 2366.4,1534.0 2360.8,1514.3 2354.7,1494.7 2348.4,1475.0 2327.5,1455.3 2328.4,1435.7 2308.8,1416.0 2295.2,1396.4 2284.8,1376.7 2283.7,1357.0 2283.9,1337.4 2269.8,1317.7 2266.4,1298.0 2263.1,1278.4 2261.8,1258.7 2262.3,1239.0 2257.0,1219.4 2256.6,1199.7 2252.5,1180.0 2249.8,1160.4 2248.7,1140.7 2247.6,1121.1 2243.3,1101.4 2247.1,1081.7 2251.0,1062.1 2251.0,1042.4 2252.6,1022.7 2249.7,1003.1 2248.1,983.4 2249.3,963.7 2248.7,944.1 2248.2,924.4 2248.3,904.7 2248.2,885.1 2248.2,865.4 2248.6,845.8 2249.0,826.1 2248.9,806.4 2248.5,786.8 2248.5,767.1 2249.2,747.4 2249.3,727.8 2248.6,708.1 2248.6,688.4 2248.7,668.8 2248.4,649.1 2248.8,629.5 2248.4,609.8 2248.4,590.1 2248.4,570.5 2248.4,550.8 2248.4,531.1 2248.4,511.5 2248.8,491.8 2249.2,472.1 2248.8,452.5 2249.1,432.8 2248.4,413.1 2249.5,393.5 2249.0,373.8 2248.8,354.1 2248.8,334.5 2248.4,314.8 2248.7,295.2 2248.9,275.5 2248.9,255.8 2248.7,236.2 2248.8,216.5" stroke="#c8463c"/>
<polyline points="2459.9,1868.3 2482.3,1848.6 2541.6,1829.0 2465.9,1809.3 2487.5,1789.6 2516.4,1770.0 2504.4,1750.3 2509.6,1730.6 2554.2,1711.0 2564.6,1691.3 2530.1,1671.7 2474.4,1652.0 2479.5,1632.3 2460.7,1612.7 2475.5,1593.0 2435.1,1573.3 2415.0,1553.7 2396.4,1534.0 2405.1,1514.3 2399.4,1494.7 2374.9,1475.0 2343.8,1455.3 2337.3,1435.7 2335.0,1416.0 2299.8,1396.4 2304.5,1376.7 2285.5,1357.0 2291.1,1337.4 2279.2,1317.7 2277.7,1298.0 2271.0,1278.4 2272.9,1258.7 2274.2,1239.0 2266.4,1219.4 2267.1,1199.7 2258.1,1180.0 2251.3,1160.4 2252.8,1140.7 2254.6,1121.1 2247.1,1101.4 2253.8,1081.7 2256.2,1062.1 2258.4,1042.4 2256.5,1022.7 2253.4,1003.1 2252.0,983.4 2249.6,963.7 2249.9,944.1 2249.4,924.4 2249.6,904.7 2248.9,885.1 2248.4,865.4 2249.1,845.8 2248.5,826.1 2248.4,806.4 2248.7,786.8 2248.4,767.1 2248.4,747.4 2248.4,727.8 2248.7,708.1 2248.4,688.4 2249.2,668.8 2248.9,649.1 2248.7,629.5 2249.5,609.8 2250.0,590.1 2250.6,570.5 2249.9,550.8 2249.6,531.1 2249.7,511.5 2249.3,491.8 2249.3,472.1 2249.2,452.5 2249.5,432.8 2250.2,413.1 2249.9,393.5 2250.6,373.8 2250.2,354.1 2250.0,334.5 2249.8,314.8 2249.6,295.2 2249.1,275.5 2249.4,255.8 2249.4,236.2 2250.1,216.5" stroke="#d44d41"/>
<polyline points="2435.8,1868.3 2422.6,1848.6 2600.7,1829.0 2560.5,1809.3 2584.0,1789.6 2483.1,1770.0 2399.7,1750.3 2516.3,1730.6 2641.9,1711.0 2571.9,1691.3 2594.1,1671.7 2505.2,1652.0 2550.8,1632.3 2438.6,1612.7 2494.1,1593.0 2427.5,1573.3 2401.9,1553.7 2431.0,1534.0 2401.2,1514.3 2403.5,1494.7 2392.9,1475.0 2360.8,1455.3 2410.8,1435.7 2349.7,1416.0 2332.9,1396.4 2319.9,1376.7 2308.3,1357.0 2298.2,1337.4 2286.7,1317.7 2285.5,1298.0 2279.9,1278.4 2274.9,1258.7 2270.2,1239.0 2263.5,1219.4 2270.6,1199.7 2262.1,1180.0 2260.2,1160.4 2257.7,1140.7 2259.8,1121.1 2252.0,1101.4 2250.6,1081.7 2252.6,1062.1 2259.1,1042.4 2256.2,1022.7 2255.0,1003.1 2255.8,983.4 2251.5,963.7 2252.3,944.1 2250.5,924.4 2250.4,904.7 2251.0,885.1 2249.8,865.4 2249.9,845.8 2249.7,826.1 2249.3,806.4 2249.4,786.8 2249.9,767.1 2250.1,747.4 2249.4,727.8 2251.1,708.1 2250.0,688.4 2250.0,668.8 2251.0,649.1 2250.8,629.5 2250.0,609.8 2250.8,590.1 2250.8,570.5 2250.0,550.8 2251.1,531.1 2251.1,511.5 2250.5,491.8 2250.7,472.1 2251.1,452.5 2251.1,432.8 2251.0,413.1 2251.0,393.5 2250.0,373.8 2250.4,354.1 2250.1,334.5 2251.1,314.8 2250.8,295.2 2250.4,275.5 2250.7,255.8 2249.7,236.2 2249.7,216.5" stroke="#e15347"/>
<polyline points="2394.2,1868.3 2360.8,1848.6 2335.3,1829.0 2327.5,1809.3 2349.7,1789.6 2405.3,1770.0 2567.3,1750.3 2558.5,1730.6 2565.4,1711.0 2552.3,1691.3 2571.7,1671.7 2497.2,1652.0 2491.3,1632.3 2469.9,1612.7 2456.8,1593.0 2440.6,1573.3 2398.7,1553.7 2413.1,1534.0 2425.4,1514.3 2398.6,1494.7 2377.9,1475.0 2370.7,1455.3 2373.2,1435.7 2335.2,1416.0 2320.8,1396.4 2304.8,1376.7 2301.5,1357.0 2298.4,1337.4 2289.5,1317.7 2278.2,1298.0 2268.8,1278.4 2270.5,1258.7 2268.0,1239.0 2264.5,1219.4 2264.2,1199.7 2269.3,1180.0 2264.4,1160.4 2256.4,1140.7 2255.3,1121.1 2249.5,1101.4 2253.3,1081.7 2256.3,1062.1 2258.7,1042.4 2253.6,1022.7 2252.2,1003.1 2254.6,983.4 2252.4,963.7 2250.9,944.1 2250.9,924.4 2250.5,904.7 2251.1,885.1 2251.2,865.4 2250.4,845.8 2249.4,826.1 2249.9,806.4 2250.5,786.8 2249.9,767.1 2250.5,747.4 2250.5,727.8 2250.1,708.1 2250.8,688.4 2250.2,668.8 2250.5,649.1 2250.0,629.5 2250.2,609.8 2250.2,590.1 2250.6,570.5 2250.1,550.8 2251.1,531.1 2251.1,511.5 2250.3,491.8 2250.9,472.1 2251.0,452.5 2251.0,432.8 2250.8,413.1 2250.7,393.5 2249.9,373.8 2251.0,354.1 2250.6,334.5 2249.9,314.8 2251.1,295.2 2250.4,275.5 2249.9,255.8 2250.7,236.2 2250.3,216.5" stroke="#ee5a4c"/>
</g></g>
<rect x="2138.7" y="216.5" width="1221.8" height="1651.8" fill="none" stroke="#fff" stroke-width="5"/>
<g stroke="#fff" stroke-width="3.3">
<line x1="2126.9" x2="2138.7" y1="1789.6" y2="1789.6"/>
<line x1="2126.9" x2="2138.7" y1="1593.0" y2="1593.0"/>
<line x1="2126.9" x2="2138.7" y1="1396.4" y2="1396.4"/>
<line x1="2126.9" x2="2138.7" y1="1199.7" y2="1199.7"/>
<line x1="2126.9" x2="2138.7" y1="1003.1" y2="1003.1"/>
<line x1="2126.9" x2="2138.7" y1="806.4" y2="806.4"/>
<line x1="2126.9" x2="2138.7" y1="609.8" y2="609.8"/>
<line x1="2126.9" x2="2138.7" y1="413.1" y2="413.1"/>
<line x1="2126.9" x2="2138.7" y1="216.5" y2="216.5"/>
<line x1="2249.8" x2="2249.8" y1="1868.3" y2="1880.1"/>
<line x1="2471.9" x2="2471.9" y1="1868.3" y2="1880.1"/>
<line x1="2694.1" x2="2694.1" y1="1868.3" y2="1880.1"/>
<line x1="2916.2" x2="2916.2" y1="1868.3" y2="1880.1"/>
<line x1="3138.4" x2="3138.4" y1="1868.3" y2="1880.1"/>
<line x1="3360.5" x2="3360.5" y1="1868.3" y2="1880.1"/>
</g>
<g font-size="43">
<text x="2115.2" y="1805.7" text-anchor="end" textLength="55" lengthAdjust="spacingAndGlyphs">10</text>
<text x="2115.2" y="1609.1" text-anchor="end" textLength="55" lengthAdjust="spacingAndGlyphs">15</text>
<text x="2115.2" y="1412.5" text-anchor="end" textLength="55" lengthAdjust="spacingAndGlyphs">20</text>
<text x="2115.2" y="1215.8" text-anchor="end" textLength="55" lengthAdjust="spacingAndGlyphs">25</text>
<text x="2115.2" y="1019.2" text-anchor="end" textLength="55" lengthAdjust="spacingAndGlyphs">30</text>
<text x="2115.2" y="822.5" text-anchor="end" textLength="55" lengthAdjust="spacingAndGlyphs">35</text>
<text x="2115.2" y="625.9" text-anchor="end" textLength="55" lengthAdjust="spacingAndGlyphs">40</text>
<text x="2115.2" y="429.2" text-anchor="end" textLength="55" lengthAdjust="spacingAndGlyphs">45</text>
<text x="2115.2" y="232.6" text-anchor="end" textLength="55" lengthAdjust="spacingAndGlyphs">50</text>
<text x="2249.8" y="1927" text-anchor="middle" textLength="120" lengthAdjust="spacingAndGlyphs">0.000</text>
<text x="2471.9" y="1927" text-anchor="middle" textLength="120" lengthAdjust="spacingAndGlyphs">0.002</text>
<text x="2694.1" y="1927" text-anchor="middle" textLength="120" lengthAdjust="spacingAndGlyphs">0.004</text>
<text x="2916.2" y="1927" text-anchor="middle" textLength="120" lengthAdjust="spacingAndGlyphs">0.006</text>
<text x="3138.4" y="1927" text-anchor="middle" textLength="120" lengthAdjust="spacingAndGlyphs">0.008</text>
<text x="3360.5" y="1927" text-anchor="middle" textLength="120" lengthAdjust="spacingAndGlyphs">0.010</text>
</g>
<text x="2749.6" y="2002.3" font-size="57" text-anchor="middle" textLength="861" lengthAdjust="spacingAndGlyphs">Aerosol Extinction Coefficient</text>
<text y="2077" font-size="57"><tspan x="2651.3">[km</tspan><tspan x="2770.1" y="2055" font-size="42" textLength="26" lengthAdjust="spacingAndGlyphs" style="font-family:'Liberation Serif', serif">−</tspan><tspan x="2802.1" y="2055" font-size="42" style="font-family:'Liberation Serif', serif">1</tspan><tspan x="2824.1" y="2077">]</tspan></text>
<text transform="translate(2023.4,1044.4) rotate(-90)" font-size="57" text-anchor="middle" textLength="378" lengthAdjust="spacingAndGlyphs">Altitude [km]</text>
<g font-weight="bold" font-size="76" style="font-family:'DejaVu Sans', 'Liberation Sans', sans-serif">
<text style="font-family:'DejaVu Sans', 'Liberation Sans', sans-serif" x="961.5" y="101.9" textLength="223.9" lengthAdjust="spacingAndGlyphs">SAGE</text>
<text style="font-family:'DejaVu Sans', 'Liberation Sans', sans-serif" x="1431.5" y="101.9" textLength="106.6" lengthAdjust="spacingAndGlyphs">SS</text>
<text style="font-family:'DejaVu Sans', 'Liberation Sans', sans-serif" x="1562.6" y="101.9" textLength="264.1" lengthAdjust="spacingAndGlyphs">520nm</text>
<text style="font-family:'DejaVu Sans', 'Liberation Sans', sans-serif" x="1860.3" y="101.9" textLength="308.1" lengthAdjust="spacingAndGlyphs">Aerosol</text>
<text style="font-family:'DejaVu Sans', 'Liberation Sans', sans-serif" x="2191.8" y="101.9" textLength="413.0" lengthAdjust="spacingAndGlyphs">Extinction</text>
<text style="font-family:'DejaVu Sans', 'Liberation Sans', sans-serif" x="2625.6" y="101.9" textLength="443.6" lengthAdjust="spacingAndGlyphs">Coefficient</text>
<text style="font-family:'DejaVu Sans Mono', 'Liberation Mono', monospace" x="1210.1" y="101.9" letter-spacing="-1.75">III</text>
<text style="font-family:'DejaVu Sans Mono', 'Liberation Mono', monospace" x="1389.7" y="101.9">I</text>
<text style="font-family:'Liberation Sans', sans-serif" transform="translate(1344.5,110) skewX(-16)" font-size="88">/</text>
<text style="font-family:'DejaVu Sans', 'Liberation Sans', sans-serif" x="1746.3" y="195.5" textLength="539" lengthAdjust="spacingAndGlyphs">02 April 2020</text>
</g>
<g font-weight="bold" font-size="64">
<text style="font-family:'DejaVu Sans', 'Liberation Sans', sans-serif" x="1156.5" y="195.7" textLength="253" lengthAdjust="spacingAndGlyphs">Sunrise</text>
<text style="font-family:'DejaVu Sans', 'Liberation Sans', sans-serif" x="2633.5" y="195.7" textLength="230" lengthAdjust="spacingAndGlyphs">Sunset</text>
</g>
<rect x="3.4" y="759.5" width="435.0" height="895.9" rx="5" ry="5" fill="#000" stroke="#b0b0b0" stroke-width="3.2"/>
<line x1="14.0" x2="104.0" y1="790.8" y2="790.8" stroke="#044870" stroke-width="10"/>
<text x="130.3" y="804.0" font-size="37.5" textLength="286.0" lengthAdjust="spacingAndGlyphs">2020040202SR</text>
<line x1="14.0" x2="104.0" y1="849.8" y2="849.8" stroke="#044d77" stroke-width="10"/>
<text x="130.3" y="863.0" font-size="37.5" textLength="286.0" lengthAdjust="spacingAndGlyphs">2020040205SR</text>
<line x1="14.0" x2="104.0" y1="908.8" y2="908.8" stroke="#05517d" stroke-width="10"/>
<text x="130.3" y="922.0" font-size="37.5" textLength="286.0" lengthAdjust="spacingAndGlyphs">2020040208SR</text>
<line x1="14.0" x2="104.0" y1="967.8" y2="967.8" stroke="#065684" stroke-width="10"/>
<text x="130.3" y="981.0" font-size="37.5" textLength="279.0" lengthAdjust="spacingAndGlyphs">2020040211SR</text>
<line x1="14.0" x2="104.0" y1="1026.8" y2="1026.8" stroke="#065b8b" stroke-width="10"/>
<text x="130.3" y="1040.0" font-size="37.5" textLength="286.0" lengthAdjust="spacingAndGlyphs">2020040214SR</text>
<line x1="14.0" x2="104.0" y1="1085.8" y2="1085.8" stroke="#066092" stroke-width="10"/>
<text x="130.3" y="1099.0" font-size="37.5" textLength="279.0" lengthAdjust="spacingAndGlyphs">2020040217SR</text>
<line x1="14.0" x2="104.0" y1="1144.8" y2="1144.8" stroke="#076498" stroke-width="10"/>
<text x="130.3" y="1158.0" font-size="37.5" textLength="286.0" lengthAdjust="spacingAndGlyphs">2020040220SR</text>
<line x1="14.0" x2="104.0" y1="1203.8" y2="1203.8" stroke="#08699f" stroke-width="10"/>
<text x="130.3" y="1217.0" font-size="37.5" textLength="286.0" lengthAdjust="spacingAndGlyphs">2020040223SR</text>
<line x1="14.0" x2="104.0" y1="1262.8" y2="1262.8" stroke="#086ea6" stroke-width="10"/>
<text x="130.3" y="1276.0" font-size="37.5" textLength="286.0" lengthAdjust="spacingAndGlyphs">2020040226SR</text>
<line x1="14.0" x2="104.0" y1="1321.8" y2="1321.8" stroke="#0872ac" stroke-width="10"/>
<text x="130.3" y="1335.0" font-size="37.5" textLength="286.0" lengthAdjust="spacingAndGlyphs">2020040229SR</text>
<line x1="14.0" x2="104.0" y1="1380.8" y2="1380.8" stroke="#0977b3" stroke-width="10"/>
<text x="130.3" y="1394.0" font-size="37.5" textLength="286.0" lengthAdjust="spacingAndGlyphs">2020040232SR</text>
<line x1="14.0" x2="104.0" y1="1439.8" y2="1439.8" stroke="#0a7cba" stroke-width="10"/>
<text x="130.3" y="1453.0" font-size="37.5" textLength="286.0" lengthAdjust="spacingAndGlyphs">2020040235SR</text>
<line x1="14.0" x2="104.0" y1="1498.8" y2="1498.8" stroke="#0a81c1" stroke-width="10"/>
<text x="130.3" y="1512.0" font-size="37.5" textLength="286.0" lengthAdjust="spacingAndGlyphs">2020040238SR</text>
<line x1="14.0" x2="104.0" y1="1557.8" y2="1557.8" stroke="#0a85c7" stroke-width="10"/>
<text x="130.3" y="1571.0" font-size="37.5" textLength="279.0" lengthAdjust="spacingAndGlyphs">2020040241SR</text>
<line x1="14.0" x2="104.0" y1="1616.8" y2="1616.8" stroke="#0b8ace" stroke-width="10"/>
<text x="130.3" y="1630.0" font-size="37.5" textLength="286.0" lengthAdjust="spacingAndGlyphs">2020040244SR</text>
<rect x="3380.5" y="788.6" width="428.5" height="837.4" rx="5" ry="5" fill="#000" stroke="#b0b0b0" stroke-width="3.2"/>
<line x1="3391.1" x2="3481.1" y1="819.9" y2="819.9" stroke="#480505" stroke-width="10"/>
<text x="3507.5" y="833.1" font-size="37.5" textLength="283.5" lengthAdjust="spacingAndGlyphs">2020040203SS</text>
<line x1="3391.1" x2="3481.1" y1="878.9" y2="878.9" stroke="#550c0a" stroke-width="10"/>
<text x="3507.5" y="892.1" font-size="37.5" textLength="283.5" lengthAdjust="spacingAndGlyphs">2020040206SS</text>
<line x1="3391.1" x2="3481.1" y1="937.9" y2="937.9" stroke="#621210" stroke-width="10"/>
<text x="3507.5" y="951.1" font-size="37.5" textLength="283.5" lengthAdjust="spacingAndGlyphs">2020040209SS</text>
<line x1="3391.1" x2="3481.1" y1="996.9" y2="996.9" stroke="#6e1915" stroke-width="10"/>
<text x="3507.5" y="1010.1" font-size="37.5" textLength="276.5" lengthAdjust="spacingAndGlyphs">2020040212SS</text>
<line x1="3391.1" x2="3481.1" y1="1055.9" y2="1055.9" stroke="#7b1f1b" stroke-width="10"/>
<text x="3507.5" y="1069.1" font-size="37.5" textLength="276.5" lengthAdjust="spacingAndGlyphs">2020040215SS</text>
<line x1="3391.1" x2="3481.1" y1="1114.9" y2="1114.9" stroke="#882620" stroke-width="10"/>
<text x="3507.5" y="1128.1" font-size="37.5" textLength="276.5" lengthAdjust="spacingAndGlyphs">2020040218SS</text>
<line x1="3391.1" x2="3481.1" y1="1173.9" y2="1173.9" stroke="#952c26" stroke-width="10"/>
<text x="3507.5" y="1187.1" font-size="37.5" textLength="276.5" lengthAdjust="spacingAndGlyphs">2020040221SS</text>
<line x1="3391.1" x2="3481.1" y1="1232.9" y2="1232.9" stroke="#a1332b" stroke-width="10"/>
<text x="3507.5" y="1246.1" font-size="37.5" textLength="283.5" lengthAdjust="spacingAndGlyphs">2020040224SS</text>
<line x1="3391.1" x2="3481.1" y1="1291.9" y2="1291.9" stroke="#ae3931" stroke-width="10"/>
<text x="3507.5" y="1305.1" font-size="37.5" textLength="283.5" lengthAdjust="spacingAndGlyphs">2020040227SS</text>
<line x1="3391.1" x2="3481.1" y1="1350.9" y2="1350.9" stroke="#bb4036" stroke-width="10"/>
<text x="3507.5" y="1364.1" font-size="37.5" textLength="283.5" lengthAdjust="spacingAndGlyphs">2020040230SS</text>
<line x1="3391.1" x2="3481.1" y1="1409.9" y2="1409.9" stroke="#c8463c" stroke-width="10"/>
<text x="3507.5" y="1423.1" font-size="37.5" textLength="283.5" lengthAdjust="spacingAndGlyphs">2020040233SS</text>
<line x1="3391.1" x2="3481.1" y1="1468.9" y2="1468.9" stroke="#d44d41" stroke-width="10"/>
<text x="3507.5" y="1482.1" font-size="37.5" textLength="283.5" lengthAdjust="spacingAndGlyphs">2020040236SS</text>
<line x1="3391.1" x2="3481.1" y1="1527.9" y2="1527.9" stroke="#e15347" stroke-width="10"/>
<text x="3507.5" y="1541.1" font-size="37.5" textLength="283.5" lengthAdjust="spacingAndGlyphs">2020040239SS</text>
<line x1="3391.1" x2="3481.1" y1="1586.9" y2="1586.9" stroke="#ee5a4c" stroke-width="10"/>
<text x="3507.5" y="1600.1" font-size="37.5" textLength="283.5" lengthAdjust="spacingAndGlyphs">2020040242SS</text>
<line x1="39.6" x2="120" y1="1980" y2="1980" stroke="#fff" stroke-width="10" stroke-dasharray="37 16"/>
<line x1="39.6" x2="120" y1="2040" y2="2040" stroke="#fff" stroke-width="10" stroke-dasharray="10 16.5"/>
<rect x="40.5" y="2085" width="80" height="28.5" fill="#696c71" stroke="#8e9093" stroke-width="2.5"/>
<g font-size="38.5">
<text x="152.5" y="1993.4" textLength="350" lengthAdjust="spacingAndGlyphs">Mean Tropopause</text>
<text x="152.5" y="2053.5" textLength="386" lengthAdjust="spacingAndGlyphs">Median Tropopause</text>
<text x="154.5" y="2113.3" textLength="366" lengthAdjust="spacingAndGlyphs">Tropopause Range</text>
</g>
<g font-size="32" text-anchor="end">
<text x="3838.6" y="2038.5" textLength="571" lengthAdjust="spacingAndGlyphs" style="fill:#8a8a8a">SAGE <tspan style="font-family:'DejaVu Sans Mono', 'Liberation Mono', monospace">III</tspan>/<tspan style="font-family:'DejaVu Sans Mono', 'Liberation Mono', monospace">I</tspan>SS Mission | NASA LaRC</text>
<text x="3840" y="2076.2" textLength="529.0" lengthAdjust="spacingAndGlyphs" style="fill:#8a8a8a">Preparer: Kevin R. Leavor (AMA)</text>
<text x="3840" y="2113.0" textLength="451.6" lengthAdjust="spacingAndGlyphs" style="fill:#8a8a8a">Generated 2025-07-17 22:25</text>
<text x="3840" y="2150.3" textLength="307.2" lengthAdjust="spacingAndGlyphs" style="fill:#8a8a8a">Data Version: 6.0.0</text>
</g>
<g id="patch">
<defs><clipPath id="disk"><circle cx="3662" cy="220" r="125.7"/></clipPath><clipPath id="moonc"><circle cx="3637" cy="143.9" r="23.9"/></clipPath><clipPath id="sunc"><circle cx="3735.2" cy="280.6" r="23.3"/></clipPath><path id="arcp" d="M 3505.7,224 A 156.3,156.3 0 0 0 3818.3,224"/></defs>
<path d="M 3527,21 H 3797 A 29.5,29.5 0 0 1 3826.5,50.5 V 224 A 164.5,164.5 0 0 1 3497.5,224 V 50.5 A 29.5,29.5 0 0 1 3527,21 Z" fill="#0c5088" stroke="#e8584b" stroke-width="7"/>
<circle cx="3662" cy="220" r="133.6" fill="#0b4d84" stroke="#c9cedc" stroke-width="15.8"/>
<g clip-path="url(#disk)">
<circle cx="3250" cy="540" r="537" fill="#1872ad"/>
<circle cx="3250" cy="540" r="525.5" fill="#0b4d84" stroke="#e8f2fa" stroke-width="1.1"/>
<g clip-path="url(#earthc)">
<polygon fill="#5fa16a" points="3599.2,174.3 3615.4,171.6 3624.3,183.3 3640.5,197.7 3654.8,213.8 3665.6,226.4 3663.8,238.9 3668.3,251.5 3665.6,262.3 3656.6,258.7 3647.7,264.1 3642.3,276.6 3645.9,289.2 3654.8,296.4 3663.8,291.0 3665.6,301.7 3674.6,308.0 3683.5,305.3 3692.5,310.7 3694.3,323.3 3696.1,344.8 3676.4,350.0 3665.6,328.7 3654.8,317.9 3640.5,314.3 3626.1,301.7 3615.4,291.0 3608.2,287.4 3599.2,269.4"/>
<polygon fill="#0b4d84" points="3619.8,201.3 3626.1,204.8 3633.3,202.1 3640.5,206.6 3645.9,204.8 3651.3,212.0 3645.9,215.6 3647.7,224.6 3640.5,219.2 3636.9,226.4 3633.3,215.6 3627.9,213.8 3624.3,219.2 3620.7,210.2"/>
<polygon fill="#0b4d84" points="3658.4,224.6 3663.8,222.8 3663.8,231.8 3660.2,230.0"/>
<polygon fill="#5fa16a" points="3696.1,302.6 3705.1,292.8 3717.6,291.0 3726.6,310.7 3732.9,325.1 3719.4,341.2 3701.5,350.0 3694.3,350.0 3695.2,323.3 3692.5,312.5"/>
</g>
<g stroke="#eaf3fb" stroke-width="1.1" fill="none">
<line x1="3715" y1="192.3" x2="3645.9" y2="166.3"/>
<line x1="3715" y1="192.3" x2="3654.8" y2="159.1"/>
<line x1="3715" y1="192.3" x2="3669.2" y2="226.4"/>
<line x1="3715" y1="192.3" x2="3674.6" y2="233.5"/>
<line x1="3715" y1="192.3" x2="3723.0" y2="257.8"/>
<line x1="3715" y1="192.3" x2="3733.8" y2="256.0"/>
</g>
<circle cx="3637" cy="143.9" r="23.9" fill="#ffffff"/>
<g clip-path="url(#moonc)"><circle cx="3634" cy="139" r="22" fill="#c6cad6"/><path fill="#a9aebc" d="M 3636,134 q 4,-5 9,-2 q 5,1 6,6 q 3,4 -1,8 q 1,5 -4,7 q -5,3 -8,-1 q -5,-2 -3,-7 q -4,-4 1,-7 q 0,-3 0,-4 Z"/><ellipse cx="3630" cy="146" rx="3.5" ry="4.5" fill="#a9aebc"/><ellipse cx="3649" cy="131" rx="4" ry="2.5" fill="#b4b8c5"/><circle cx="3627" cy="130" r="2.2" fill="#f4f6fa"/><circle cx="3633" cy="126" r="1.5" fill="#f4f6fa"/><circle cx="3630" cy="136" r="1.2" fill="#f4f6fa"/><circle cx="3623" cy="137" r="1.2" fill="#f4f6fa"/></g>
<circle cx="3735.2" cy="280.6" r="23.3" fill="#fde3a2"/>
<g clip-path="url(#sunc)"><path fill="#d2d5df" fill-rule="evenodd" d="M 3708,254 h 56 v 56 h -56 Z M 3744,276 m -26,0 a 26,26 0 1 0 52,0 a 26,26 0 1 0 -52,0 Z"/></g>
<path fill="#fdeeb8" d="M 3693.4,107.1 L 3694.9,115.1 L 3702.9,116.6 L 3694.9,118.1 L 3693.4,126.1 L 3691.9,118.1 L 3683.9,116.6 L 3691.9,115.1 Z"/>
<circle cx="3693.4" cy="116.6" r="2.2" fill="#fbd46a"/>
<path fill="#eef5fb" d="M 3680.0,121.7 L 3680.9,126.4 L 3685.6,127.3 L 3680.9,128.2 L 3680.0,132.9 L 3679.1,128.2 L 3674.4,127.3 L 3679.1,126.4 Z"/>
<path fill="#eef5fb" d="M 3703.3,126.7 L 3704.0,130.6 L 3707.9,131.3 L 3704.0,132.0 L 3703.3,135.9 L 3702.6,132.0 L 3698.7,131.3 L 3702.6,130.6 Z"/>
<g transform="translate(3727.5,180) rotate(40) scale(0.78)">
<g fill="#bfc3cc">
<rect x="-35.0" y="-24" width="3.9" height="21"/><rect x="-35.0" y="3" width="3.9" height="21"/>
<rect x="-28.5" y="-24" width="3.9" height="21"/><rect x="-28.5" y="3" width="3.9" height="21"/>
<rect x="-22.0" y="-24" width="3.9" height="21"/><rect x="-22.0" y="3" width="3.9" height="21"/>
<rect x="-15.5" y="-24" width="3.9" height="21"/><rect x="-15.5" y="3" width="3.9" height="21"/>
<rect x="10.5" y="-24" width="3.9" height="21"/><rect x="10.5" y="3" width="3.9" height="21"/>
<rect x="17.0" y="-24" width="3.9" height="21"/><rect x="17.0" y="3" width="3.9" height="21"/>
<rect x="23.5" y="-24" width="3.9" height="21"/><rect x="23.5" y="3" width="3.9" height="21"/>
<rect x="30.0" y="-24" width="3.9" height="21"/><rect x="30.0" y="3" width="3.9" height="21"/>
</g>
<g stroke="#e9e3dc" stroke-width="2" fill="none"><line x1="-36" y1="0" x2="36" y2="0"/><line x1="-5" y1="-12" x2="-5" y2="13"/><line x1="1" y1="-9" x2="1" y2="9"/><line x1="7" y1="-12" x2="7" y2="6"/><line x1="-9" y1="7" x2="9" y2="7"/><line x1="-9" y1="-6" x2="4" y2="-6"/></g>
</g>
<polygon fill="#dc5547" points="3552.1,205.5 3586.7,215.8 3609.1,202.0 3604.8,233.1 3606.0,267.6 3609.5,336.7 3586.7,326.3 3566.0,295.2 3541.8,250.4 3538.3,229.6"/>
<polygon fill="#a3332c" points="3541.8,236.6 3552.1,215.8 3559.0,226.2 3555.6,250.4 3564.2,284.9 3567.7,297.0 3552.1,271.1"/>
<polygon fill="#a3332c" points="3571.1,226.2 3576.3,226.2 3579.8,267.6 3583.2,310.8 3576.3,307.3 3571.1,264.2"/>
<polygon fill="#a3332c" points="3590.1,233.1 3595.3,233.1 3600.5,284.9 3605.7,331.5 3598.8,328.0 3593.6,281.4"/>
<polygon fill="#7c1f1d" points="3562.5,240.0 3566.8,229.6 3569.4,267.6 3574.6,305.6 3568.5,298.7 3564.2,267.6"/>
</g>
<polygon fill="#dc5547" points="3547.0,152.8 3559.0,148.5 3571.1,152.0 3579.8,176.1 3597.0,188.2 3603.9,167.5 3610.8,191.7 3609.1,205.5 3586.7,219.3 3553.9,207.2 3541.8,215.8 3510.7,242.6 3502.4,239.1 3515.9,205.5 3521.9,173.5 3534.9,162.3"/>
<polygon fill="#7c1f1d" points="3527.1,181.3 3534.9,191.7 3541.8,198.6 3547.0,205.5 3540.1,214.1 3512.4,240.9 3506.4,238.3 3524.5,212.4"/>
<polygon fill="#a3332c" points="3550.4,164.0 3562.5,160.6 3576.3,176.1 3579.8,191.7 3566.0,188.2 3552.1,181.3"/>
<polygon fill="#a3332c" points="3600.5,167.5 3604.8,169.2 3609.1,188.2 3603.9,191.7"/>
<polyline fill="none" stroke="#8d4a22" stroke-width="6" points="3554.7,207.2 3571.1,214.1 3588.4,218.4"/>
<polygon fill="#8d4a22" stroke="#d99550" stroke-width="1.6" points="3585.8,218.4 3591.0,214.1 3600.5,215.8 3603.9,223.6 3598.8,231.4 3588.4,228.8"/>
<text x="3594.3" y="227.5" font-size="11" font-style="italic" font-weight="bold" text-anchor="middle" style="fill:#d99550;font-family:'Liberation Serif', serif">S</text>
<polygon fill="#8a3f20" points="3600.5,165.8 3610.8,169.2 3617.7,171.8 3613.4,184.8 3603.9,188.2 3602.2,176.1"/>
<polygon fill="#c87a3a" points="3611.7,171.0 3617.7,172.2 3613.9,181.3 3609.1,180.4"/>
<polygon fill="#e2ab73" points="3608.2,177.9 3615.2,177.0 3616.9,184.8 3613.4,191.7 3608.2,190.8 3606.5,183.9"/>
<polygon fill="#ffffff" points="3559.9,145.9 3566.0,139.0 3576.3,135.6 3583.2,130.4 3593.6,128.7 3603.1,132.1 3607.4,138.2 3600.5,135.6 3591.8,137.3 3586.7,143.3 3589.3,153.7 3596.2,158.0 3600.5,164.0 3599.6,176.1 3593.6,188.2 3587.5,190.8 3581.5,184.8 3578.0,171.0 3571.1,160.6 3564.2,153.7"/>
<polygon fill="#e2ab73" points="3584.1,141.6 3591.0,135.6 3600.5,136.4 3605.3,141.6 3603.9,152.0 3600.5,155.4 3593.6,157.1 3588.4,152.8 3584.6,150.2"/>
<polygon fill="#c98a52" points="3584.1,142.5 3589.3,138.2 3591.8,146.8 3588.4,152.8 3584.6,150.2"/>
<polygon fill="#ffffff" points="3591.0,155.4 3597.0,152.8 3603.1,154.6 3600.5,163.2 3593.6,161.5"/>
<polyline fill="none" stroke="#5b3a2a" stroke-width="1.2" points="3595.3,145.4 3599.6,146.8 3602.2,146.4"/>
<polyline fill="none" stroke="#e6a455" stroke-width="5.4" stroke-linejoin="round" stroke-linecap="round" points="3535.2,124.3 3541.8,172.7 3547.0,215.8 3551.8,250.4 3559.0,267.6 3563.5,293.5"/>
<polyline fill="none" stroke="#b5651f" stroke-width="3.6" stroke-linejoin="round" stroke-linecap="round" points="3534.7,124.3 3541.3,172.7 3546.4,215.8 3551.3,250.4 3558.5,267.6 3563.0,293.5"/>
<polygon fill="#e2ab73" points="3528.8,176.1 3534.9,171.8 3545.2,174.4 3547.8,184.8 3545.2,193.4 3539.2,196.8 3532.3,191.7 3529.4,184.8"/>
<circle cx="3532.8" cy="113.1" r="10" fill="#c9cedb" stroke="#ffffff" stroke-width="1.6"/>
<g style="fill:#fff;font-family:'Liberation Serif', serif" font-weight="bold" font-size="40">
<text style="fill:#fff;font-family:'Liberation Serif', serif" x="3528.2" y="58.9" textLength="172.6" lengthAdjust="spacingAndGlyphs">SAGE III</text>
<text style="fill:#fff;font-family:'Liberation Serif', serif" x="3733" y="58.9" textLength="59.3" lengthAdjust="spacingAndGlyphs">ISS</text>
<text style="fill:#fff;font-family:'Liberation Serif', serif" x="3716.2" y="55.5" font-size="30" text-anchor="middle">•</text>
</g>
<g font-size="8.9">
<text style="fill:#e9eff7;font-family:'Liberation Sans', sans-serif" x="3528.2" y="72.2" textLength="172.6" lengthAdjust="spacingAndGlyphs">Stratospheric Aerosol and Gas Experiment III</text>
<text style="fill:#e9eff7;font-family:'Liberation Sans', sans-serif" x="3737" y="72.2" textLength="51.7" lengthAdjust="spacingAndGlyphs">International</text>
<text style="fill:#e9eff7;font-family:'Liberation Sans', sans-serif" x="3733.6" y="83" textLength="59.4" lengthAdjust="spacingAndGlyphs">Space Station</text>
</g>
<text font-weight="bold" font-size="14.6" style="fill:#fff;font-family:'Liberation Sans', sans-serif" textLength="442" lengthAdjust="spacing"><textPath href="#arcp" startOffset="36.3">BALL • NASA LANGLEY RESEARCH CENTER • TAS-I • ESA</textPath></text>
</g>
</svg></body></html>
